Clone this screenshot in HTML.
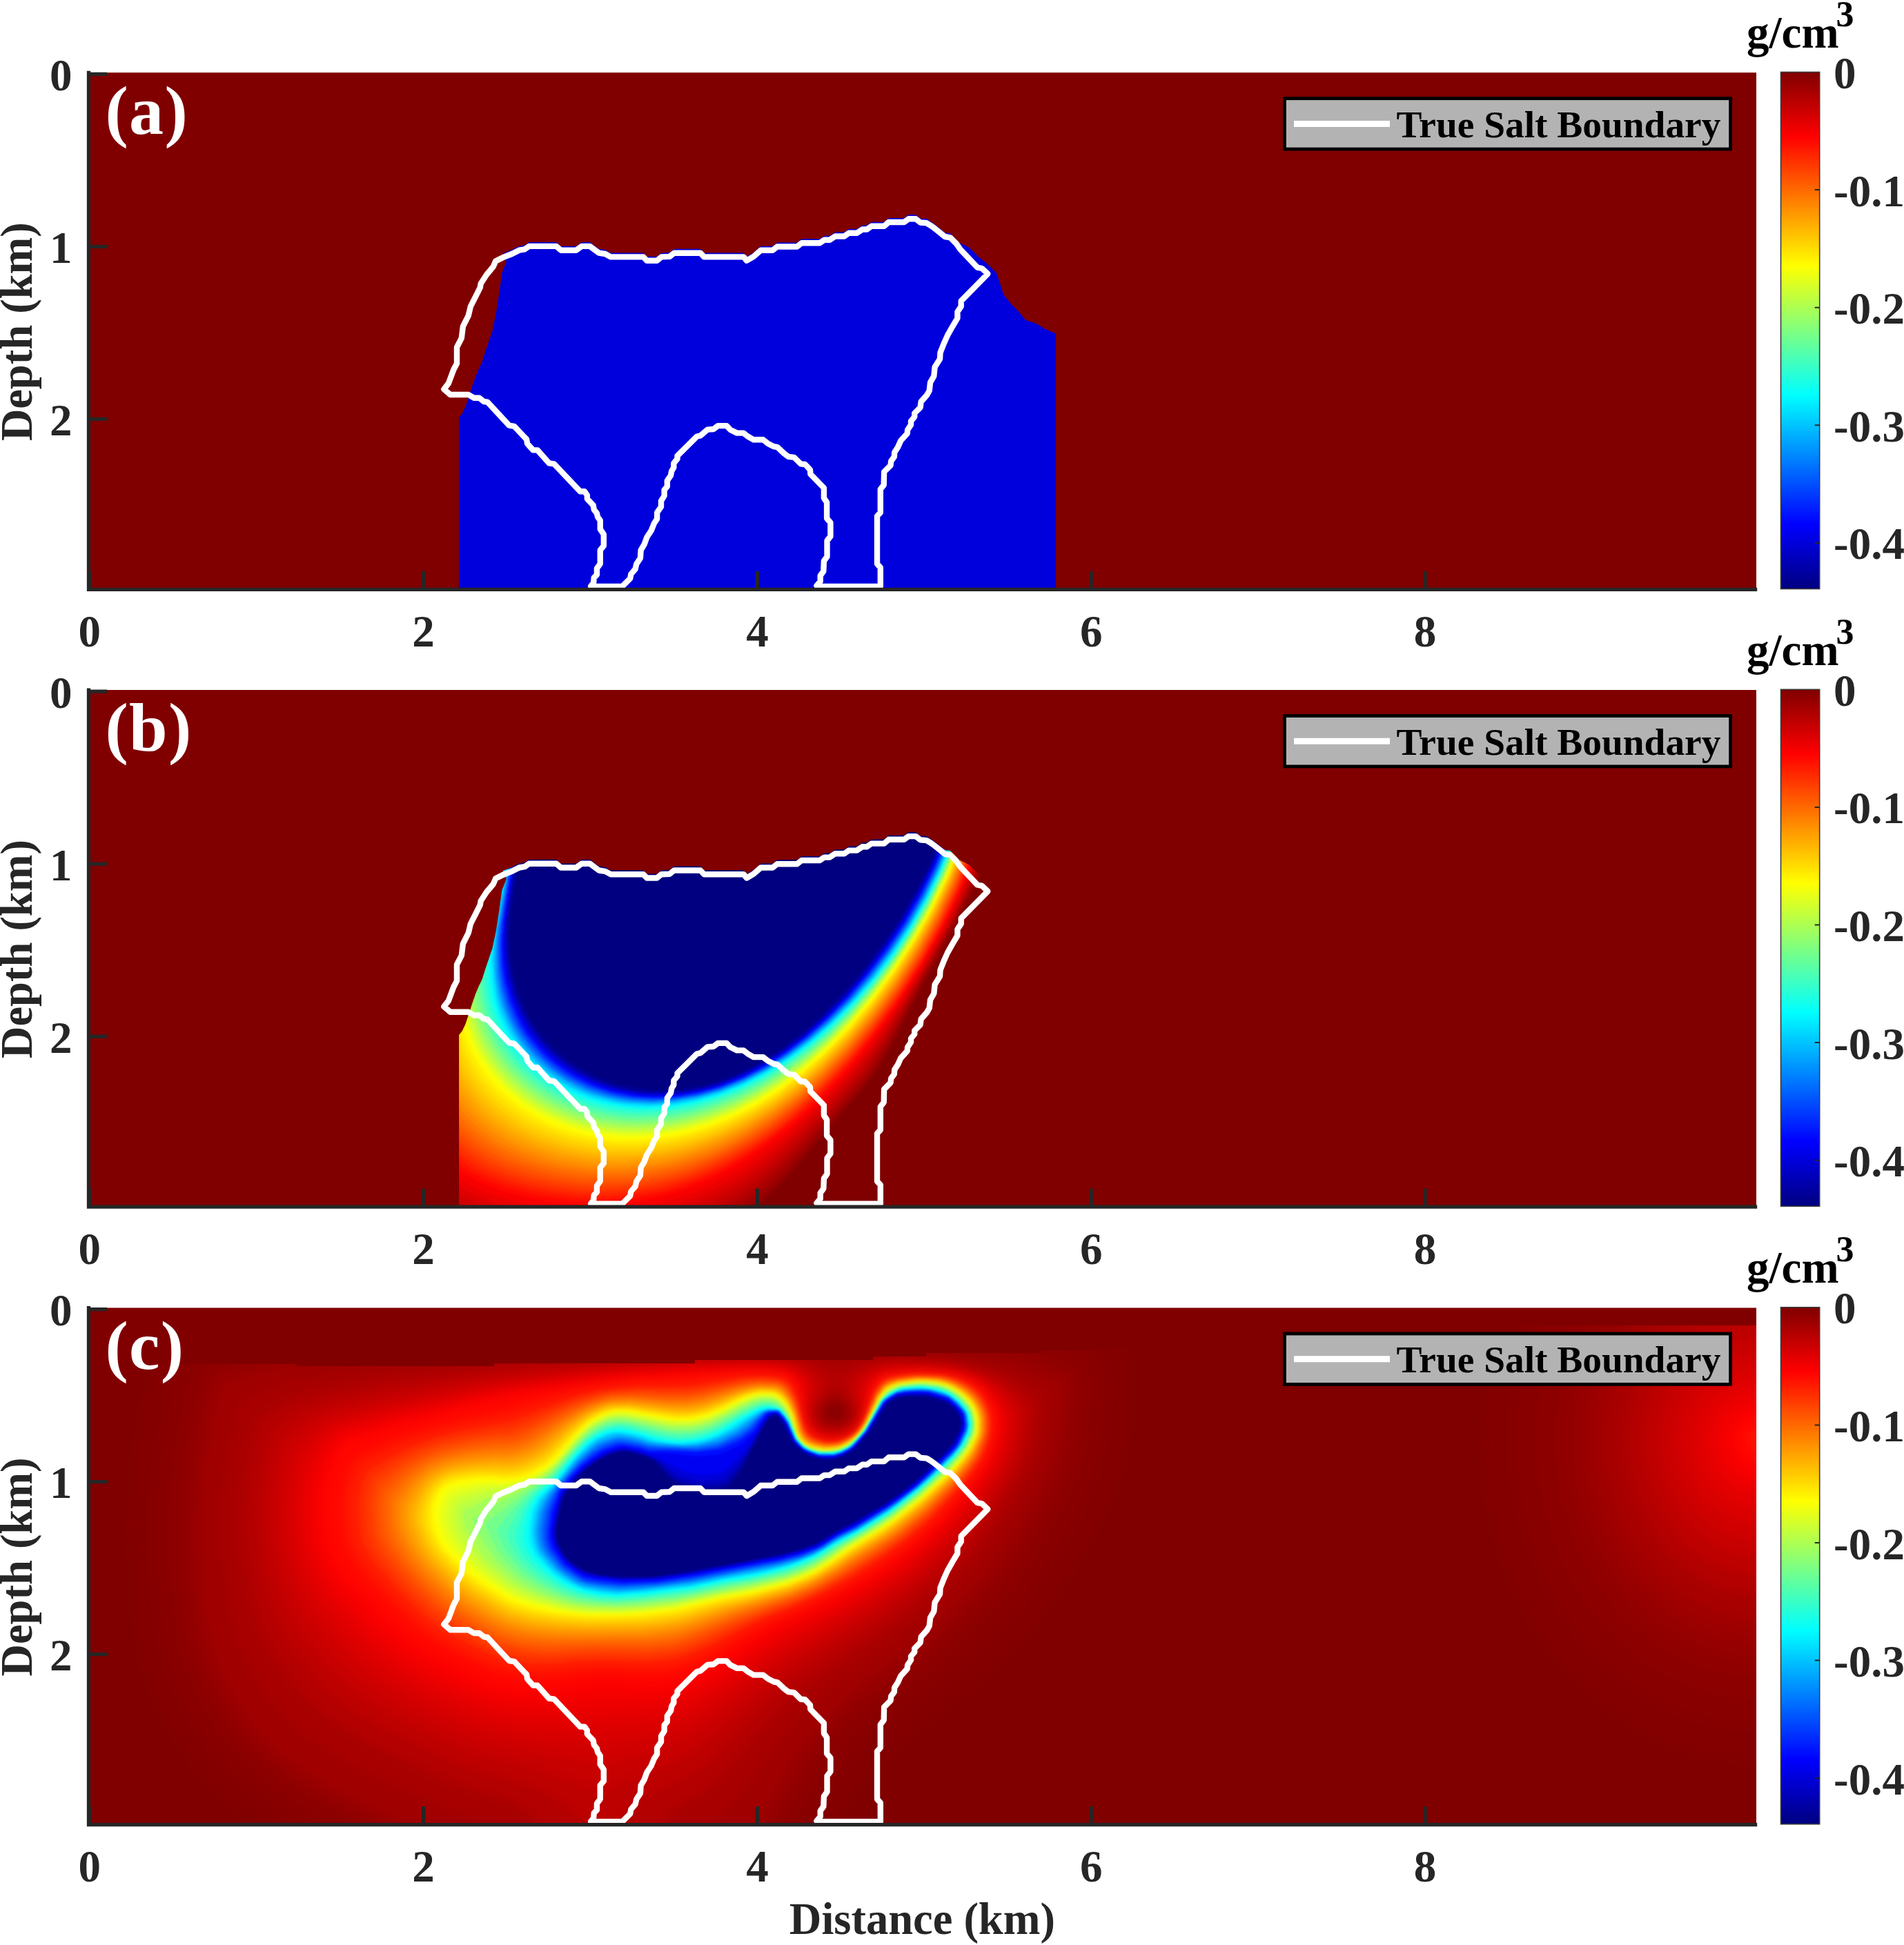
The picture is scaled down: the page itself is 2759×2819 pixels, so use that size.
<!DOCTYPE html>
<html lang="en"><head><meta charset="utf-8"><title>Salt density models</title>
<style>html,body{margin:0;padding:0;background:#fff}svg{display:block}text{font-family:"Liberation Serif",serif;font-weight:bold}</style></head><body>
<svg width="2759" height="2819" viewBox="0 0 2759 2819">
<defs>
<linearGradient id="jetbar" x1="0" y1="0" x2="0" y2="1">
<stop offset="0.0000" stop-color="#800000"/>
<stop offset="0.1250" stop-color="#ff0000"/>
<stop offset="0.3750" stop-color="#ffff00"/>
<stop offset="0.6250" stop-color="#00ffff"/>
<stop offset="0.8750" stop-color="#0000ff"/>
<stop offset="1.0000" stop-color="#000080"/>
</linearGradient>
<clipPath id="plotclip"><rect x="128.5" y="105.2" width="2416.5" height="749.2"/></clipPath>
<clipPath id="plotclipB"><rect x="128.5" y="1000.0" width="2416.5" height="749.2"/></clipPath>
<clipPath id="plotclipC"><rect x="128.5" y="1895.5" width="2416.5" height="749.2"/></clipPath>
<path id="salt" d="M643.3,564.1 649.9,555.7 657.2,536.0 662.0,526.8 662.0,503.2 668.8,490.1 670.9,473.0 678.8,457.3 681.9,444.1 689.3,429.7 695.8,416.6 696.6,411.3 705.0,398.2 714.8,386.4 718.2,378.5 728.7,373.2 741.8,368.0 752.3,362.7 760.2,361.4 766.7,356.9 806.1,356.9 812.7,362.7 835.0,362.7 842.9,356.9 854.7,356.9 867.9,366.7 877.0,368.0 884.9,372.4 932.2,372.4 937.4,377.7 951.9,377.7 958.4,372.4 970.3,371.9 976.8,366.7 1014.9,366.7 1020.2,372.4 1077.6,372.4 1082.0,377.7 1092.0,371.9 1102.5,362.7 1119.6,362.7 1126.2,357.5 1155.0,357.5 1161.6,352.2 1187.9,352.2 1194.4,347.8 1202.3,347.8 1210.2,342.5 1223.3,342.5 1229.9,337.8 1241.7,337.8 1249.6,332.5 1256.1,332.5 1262.7,327.8 1281.1,327.8 1287.7,322.0 1310.0,322.0 1316.5,317.3 1327.0,317.3 1333.6,322.5 1342.8,323.3 1349.4,327.3 1354.6,331.2 1361.2,336.5 1369.1,343.0 1376.9,344.3 1386.1,353.5 1391.4,361.4 1416.3,387.7 1422.9,389.0 1431.3,396.9 1392.7,436.2 1392.7,444.1 1387.4,452.0 1387.4,461.2 1379.6,474.3 1373.0,486.1 1367.7,498.0 1362.5,511.1 1362.0,520.3 1354.6,532.1 1353.3,545.2 1348.0,554.4 1346.7,566.2 1343.1,572.6 1334.7,582.1 1333.6,590.5 1325.2,598.9 1325.2,604.1 1320.0,610.4 1320.0,615.7 1315.1,623.0 1314.7,628.3 1305.2,638.8 1301.0,648.2 1296.2,655.6 1295.8,661.9 1291.2,668.2 1290.5,674.5 1281.1,683.9 1280.7,702.9 1275.8,709.2 1275.8,742.8 1271.0,748.0 1271.0,817.3 1275.8,822.6 1275.8,849.9 1184.5,849.9 1183.4,848.9 1188.7,842.6 1188.7,834.2 1193.3,827.9 1193.9,813.1 1198.5,806.8 1198.5,783.7 1203.4,777.4 1203.4,757.5 1198.1,751.2 1198.1,728.1 1193.9,721.8 1193.9,707.1 1174.4,687.1 1173.9,680.8 1166.6,673.0 1160.3,672.4 1150.8,662.9 1142.4,661.9 1136.1,657.1 1126.7,648.2 1121.4,647.2 1113.0,643.0 1105.7,637.3 1092.0,637.3 1083.6,632.5 1077.3,627.6 1067.9,627.6 1058.4,623.0 1052.9,617.1 1040.3,617.1 1034.0,622.0 1025.2,622.6 1015.1,631.4 1009.9,632.5 981.5,660.8 981.5,665.0 976.3,671.3 976.3,677.6 973.1,682.9 972.0,689.2 966.8,696.6 966.8,705.0 962.6,710.2 962.6,718.6 958.0,726.0 958.0,734.4 952.1,742.8 952.1,752.2 947.9,758.5 943.7,769.0 937.4,778.5 933.6,789.0 928.6,797.4 927.9,808.9 922.3,817.3 920.6,824.7 914.3,832.1 913.2,838.4 904.8,846.8 901.7,849.9 860.7,849.9 856.0,849.9 860.1,844.7 860.7,837.3 864.9,833.1 864.9,823.7 869.7,817.3 869.7,797.4 874.8,791.1 874.8,774.3 869.7,766.9 869.7,754.3 866.0,749.1 864.9,743.8 860.7,738.6 859.7,732.3 850.8,722.8 850.8,717.6 847.1,712.3 840.8,712.3 802.9,672.4 795.6,671.3 778.8,652.4 772.5,652.4 764.1,643.0 763.0,636.7 745.2,617.8 737.8,616.7 706.3,582.7 701.1,582.0 694.5,576.7 686.7,576.7 678.8,572.0 652.5,572.0Z" fill="none" stroke="#fff" stroke-width="8.4" stroke-linejoin="round" stroke-linecap="round"/>
</defs>
<rect width="2759" height="2819" fill="#fff"/>
<rect x="128.5" y="105.2" width="2416.5" height="749.2" fill="#800000"/>
<g clip-path="url(#plotclip)"><path d="M733.9,378.5 727.4,395.5 723.4,424.4 718.7,454.6 713.4,480.0 708.2,495.3 703.2,510.0 698.5,525.0 693.7,534.7 689.3,545.2 684.0,560.5 678.8,576.7 674.3,589.9 669.6,599.8 665.1,605.1 665.1,856.0 1530.0,856.0 1530.0,483.5 1514.8,477.0 1501.7,469.0 1485.9,463.8 1475.4,450.7 1464.9,440.2 1454.4,427.0 1449.2,411.3 1443.9,395.5 1430.8,382.4 1417.7,371.9 1404.5,358.8 1391.0,352.0 1391.4,355.4 1386.1,347.5 1376.9,338.3 1369.1,337.0 1361.2,330.5 1354.6,325.2 1349.4,321.3 1342.8,317.3 1333.6,316.5 1327.0,311.3 1316.5,311.3 1310.0,316.0 1287.7,316.0 1281.1,321.8 1262.7,321.8 1256.1,326.5 1249.6,326.5 1241.7,331.8 1229.9,331.8 1223.3,336.5 1210.2,336.5 1202.3,341.8 1194.4,341.8 1187.9,346.2 1161.6,346.2 1155.0,351.5 1126.2,351.5 1119.6,356.7 1102.5,356.7 1092.0,365.9 1082.0,371.7 1077.6,366.4 1020.2,366.4 1014.9,360.7 976.8,360.7 970.3,365.9 958.4,366.4 951.9,371.7 937.4,371.7 932.2,366.4 884.9,366.4 877.0,362.0 867.9,360.7 854.7,350.9 842.9,350.9 835.0,356.7 812.7,356.7 806.1,350.9 766.7,350.9 760.2,355.4 752.3,356.7 741.8,362.0 728.7,367.2Z" fill="#0000dc"/></g>
<g clip-path="url(#plotclip)" transform="translate(0,0.0)"><use href="#salt"/></g>
<path d="M128.5,102.8 V854.4 H2546.2" fill="none" stroke="#262626" stroke-width="5.3" stroke-linecap="butt" stroke-linejoin="miter"/>
<path d="M128.5,107.4H155.0M128.5,357.4H155.0M128.5,607.4H155.0M129.8,854.4V827.9M613.6,854.4V827.9M1097.4,854.4V827.9M1581.2,854.4V827.9M2065.0,854.4V827.9" stroke="#262626" stroke-width="5.3" fill="none"/>
<text x="104.5" y="130.7" font-size="65" fill="#262626" text-anchor="end">0</text>
<text x="104.5" y="380.7" font-size="65" fill="#262626" text-anchor="end">1</text>
<text x="104.5" y="630.7" font-size="65" fill="#262626" text-anchor="end">2</text>
<text x="129.8" y="936.8" font-size="65" fill="#262626" text-anchor="middle">0</text>
<text x="613.6" y="936.8" font-size="65" fill="#262626" text-anchor="middle">2</text>
<text x="1097.4" y="936.8" font-size="65" fill="#262626" text-anchor="middle">4</text>
<text x="1581.2" y="936.8" font-size="65" fill="#262626" text-anchor="middle">6</text>
<text x="2065.0" y="936.8" font-size="65" fill="#262626" text-anchor="middle">8</text>
<text transform="translate(46.3,480.8) rotate(-90)" font-size="64.5" fill="#262626" text-anchor="middle">Depth (km)</text>
<text x="152.5" y="193.5" font-size="100" letter-spacing="1.3" fill="#fff">(a)</text>
<rect x="1861.4" y="142.7" width="646.2" height="73.4" fill="#b3b3b3" stroke="#000" stroke-width="4.8"/>
<path d="M1875,179.5H2014" stroke="#fff" stroke-width="9"/>
<text x="2023.5" y="198.8" font-size="55.4" fill="#000">True Salt Boundary</text>
<rect x="2580.5" y="104.5" width="56.2" height="749" fill="url(#jetbar)" stroke="#3a3a3a" stroke-width="1.6"/>
<path d="M2636.7,275.1h-7M2636.7,445.7h-7M2636.7,616.3h-7M2636.7,786.9h-7" stroke="#262626" stroke-width="2" fill="none"/>
<text x="2657" y="128.0" font-size="65" fill="#262626">0</text>
<text x="2657" y="298.6" font-size="65" fill="#262626">-0.1</text>
<text x="2657" y="469.2" font-size="65" fill="#262626">-0.2</text>
<text x="2657" y="639.8" font-size="65" fill="#262626">-0.3</text>
<text x="2657" y="810.4" font-size="65" fill="#262626">-0.4</text>
<text x="2531" y="68.8" font-size="65" fill="#000">g/cm<tspan font-size="52" dy="-31" dx="-4">3</tspan></text>
<rect x="128.5" y="1000.0" width="2416.5" height="749.2" fill="#800000"/>
<clipPath id="clipB"><path d="M733.9,1273.3 727.4,1290.3 723.4,1319.2 718.7,1349.4 713.4,1374.8 708.2,1390.1 703.2,1404.8 698.5,1419.8 693.7,1429.5 689.3,1440.0 684.0,1455.3 678.8,1471.5 674.3,1484.7 669.6,1494.6 665.1,1499.9 665.1,1750.8 1278.8,1750.8 1278.8,1744.7 1278.8,1717.4 1274.0,1712.1 1274.0,1642.8 1278.8,1637.6 1278.8,1604.0 1283.7,1597.7 1284.1,1578.7 1293.5,1569.3 1294.2,1563.0 1298.8,1556.7 1299.2,1550.4 1304.0,1543.0 1308.2,1533.6 1317.7,1523.1 1318.1,1517.8 1323.0,1510.5 1323.0,1505.2 1328.2,1498.9 1328.2,1493.7 1336.6,1485.3 1337.7,1476.9 1346.1,1467.4 1349.7,1461.0 1351.0,1449.2 1356.3,1440.0 1357.6,1426.9 1365.0,1415.1 1365.5,1405.9 1370.7,1392.8 1376.0,1380.9 1382.6,1369.1 1390.4,1356.0 1390.4,1346.8 1395.7,1338.9 1395.7,1331.0 1437.0,1292.0 1443.9,1290.3 1430.8,1277.2 1417.7,1266.7 1404.5,1253.6 1391.0,1246.8 1391.4,1250.2 1386.1,1242.3 1376.9,1233.1 1369.1,1231.8 1361.2,1225.3 1354.6,1220.0 1349.4,1216.1 1342.8,1212.1 1333.6,1211.3 1327.0,1206.1 1316.5,1206.1 1310.0,1210.8 1287.7,1210.8 1281.1,1216.6 1262.7,1216.6 1256.1,1221.3 1249.6,1221.3 1241.7,1226.6 1229.9,1226.6 1223.3,1231.3 1210.2,1231.3 1202.3,1236.6 1194.4,1236.6 1187.9,1241.0 1161.6,1241.0 1155.0,1246.3 1126.2,1246.3 1119.6,1251.5 1102.5,1251.5 1092.0,1260.7 1082.0,1266.5 1077.6,1261.2 1020.2,1261.2 1014.9,1255.5 976.8,1255.5 970.3,1260.7 958.4,1261.2 951.9,1266.5 937.4,1266.5 932.2,1261.2 884.9,1261.2 877.0,1256.8 867.9,1255.5 854.7,1245.7 842.9,1245.7 835.0,1251.5 812.7,1251.5 806.1,1245.7 766.7,1245.7 760.2,1250.2 752.3,1251.5 741.8,1256.8 728.7,1262.0Z"/></clipPath>
<filter id="blurB" x="620" y="1160" width="890" height="630" filterUnits="userSpaceOnUse" color-interpolation-filters="sRGB"><feGaussianBlur stdDeviation="1.5"/></filter>
<g clip-path="url(#plotclipB)"><g clip-path="url(#clipB)"><g filter="url(#blurB)">
<path fill="#930000" fill-rule="evenodd" d="M640 1180l2 0 814 0 -3 12 -18 44 -16 36 -16 32 -26 50 -51 94 -35 68 -20 34 -13 18 -11 14 -39 44 -43 52 -21 24 -30 30 -18 16 -22 18 -3 4 -431 0z"/>
<path fill="#9f0000" fill-rule="evenodd" d="M640 1180l2 0 811 0 -2 6 -4 12 -16 40 -16 36 -18 36 -24 46 -49 90 -33 62 -12 22 -13 20 -11 16 -13 15 -37 41 -45 53 -22 25 -18 18 -16 14 -20 17 -24 17 -3 4 -417 0z"/>
<path fill="#ac0000" fill-rule="evenodd" d="M640 1180l2 0 808 0 -2 6 -6 16 -17 44 -18 38 -18 38 -28 52 -70 128 -15 25 -14 22 -12 16 -14 17 -34 38 -44 50 -26 27 -20 19 -20 17 -22 16 -25 17 -4 4 -394 0 -3-3 -4-2z"/>
<path fill="#b90000" fill-rule="evenodd" d="M640 1180l2 0 804 0 -1 6 -6 18 -18 44 -18 40 -20 42 -30 56 -59 105 -18 30 -18 27 -14 18 -16 19 -72 79 -32 32 -22 20 -22 17 -24 16 -29 17 -4 4 -355 0 -1-2 -6-4 -17-10 -4-1z"/>
<path fill="#c60000" fill-rule="evenodd" d="M640 1180l2 0 801 0 -2 8 -7 22 -18 44 -17 40 -22 44 -34 62 -49 85 -22 36 -20 29 -23 28 -61 66 -28 29 -24 22 -24 20 -26 19 -28 16 -31 16 -5 4 -309 0 -5-4 -24-12 -20-12 -4-1z"/>
<path fill="#d20000" fill-rule="evenodd" d="M640 1180l2 0 798 0 -2 8 -8 24 -18 46 -19 44 -22 44 -32 58 -43 73 -26 41 -24 33 -26 31 -58 61 -30 29 -28 25 -28 21 -28 17 -26 14 -40 17 -6 4 -253 0 -6-4 -23-9 -18-8 -14-8 -18-11 -4-1z"/>
<path fill="#df0000" fill-rule="evenodd" d="M640 1180l2 0 795 0 -2 8 -10 30 -18 48 -20 44 -24 48 -33 59 -38 62 -30 45 -27 34 -35 39 -50 51 -32 29 -32 25 -32 21 -34 17 -30 13 -41 13 -9 4 -176 0 -9-4 -39-12 -24-9 -22-11 -26-16 -4-1z"/>
<path fill="#ec0000" fill-rule="evenodd" d="M640 1180l2 0 792 0 -3 12 -12 36 -12 32 -12 28 -12 28 -15 30 -34 61 -40 64 -36 52 -16 21 -16 19 -42 44 -42 41 -38 32 -18 13 -20 13 -18 11 -20 10 -20 9 -20 8 -20 7 -22 5 -22 5 -26 4 -24 2 -18 1 -26-2 -36-4 -30-5 -30-8 -26-9 -22-9 -18-9 -24-16 -4-2z"/>
<path fill="#f90000" fill-rule="evenodd" d="M640 1180l2 0 789 0 -2 12 -12 36 -10 28 -13 30 -11 26 -15 30 -32 58 -38 61 -20 29 -17 24 -34 42 -41 44 -42 39 -22 18 -18 14 -20 15 -18 11 -18 10 -20 11 -20 9 -20 7 -20 7 -22 5 -22 5 -22 3 -22 1 -22 1 -32-1 -32-4 -32-6 -30-8 -26-8 -22-10 -18-10 -22-16 -4-2z"/>
<path fill="#ff0600" fill-rule="evenodd" d="M640 1180l2 0 787 0 -4 16 -10 32 -10 28 -12 30 -26 54 -31 57 -35 57 -36 50 -35 44 -20 22 -22 23 -22 21 -20 18 -18 14 -22 17 -36 24 -20 12 -20 10 -18 8 -22 8 -18 6 -24 6 -20 4 -24 3 -24 2 -20 1 -34-2 -32-3 -34-7 -30-8 -24-9 -22-10 -18-10 -22-17 -4-2z"/>
<path fill="#ff1300" fill-rule="evenodd" d="M640 1180l2 0 785 0 -2 12 -12 36 -10 28 -12 30 -25 54 -30 54 -35 56 -36 50 -37 46 -20 22 -20 20 -20 20 -20 17 -22 18 -18 14 -20 14 -20 12 -20 12 -20 10 -20 8 -20 8 -20 6 -20 5 -20 3 -24 4 -22 1 -20 1 -32-2 -34-4 -34-6 -32-9 -24-9 -22-11 -18-11 -22-18 -4-2z"/>
<path fill="#ff2000" fill-rule="evenodd" d="M640 1180l2 0 784 0 -3 12 -10 32 -10 28 -12 30 -12 28 -13 26 -14 27 -16 28 -33 53 -36 50 -20 26 -19 22 -20 22 -20 21 -38 35 -20 16 -20 15 -22 16 -20 12 -18 10 -20 10 -20 9 -20 7 -20 7 -20 5 -20 3 -22 3 -20 2 -22 1 -34-2 -34-4 -34-7 -32-9 -26-10 -22-11 -18-13 -22-18 -4-2z"/>
<path fill="#ff2d00" fill-rule="evenodd" d="M640 1180l2 0 782 0 -3 14 -10 32 -10 28 -12 30 -25 53 -29 53 -17 28 -17 26 -36 50 -38 46 -39 41 -38 35 -20 17 -20 15 -38 25 -20 11 -20 10 -20 9 -20 7 -20 7 -20 5 -20 3 -22 3 -20 2 -22 1 -34-2 -34-4 -34-7 -34-10 -24-10 -22-12 -18-12 -24-22 -4-2z"/>
<path fill="#ff3900" fill-rule="evenodd" d="M640 1180l2 0 781 0 -4 16 -10 30 -10 28 -10 26 -12 26 -13 28 -28 52 -33 52 -36 50 -37 45 -20 22 -20 21 -38 35 -20 17 -20 15 -20 14 -20 12 -18 10 -20 10 -18 8 -20 8 -20 6 -20 5 -20 4 -22 3 -20 2 -22 1 -36-2 -34-4 -36-8 -34-11 -26-11 -20-12 -19-14 -23-22 -4-2z"/>
<path fill="#ff4600" fill-rule="evenodd" d="M640 1180l2 0 780 0 -3 12 -12 36 -10 28 -10 26 -25 52 -28 52 -32 50 -36 50 -38 47 -38 40 -38 35 -20 16 -20 15 -20 14 -20 12 -18 10 -20 10 -18 8 -20 8 -20 6 -20 5 -20 4 -20 3 -20 1 -22 1 -36-2 -36-5 -36-8 -34-11 -24-11 -23-14 -17-14 -24-24 -4-2z"/>
<path fill="#ff5300" fill-rule="evenodd" d="M640 1180l2 0 778 0 -3 14 -10 32 -11 28 -11 28 -24 52 -28 50 -31 50 -36 49 -38 46 -38 41 -38 34 -38 30 -20 14 -20 12 -18 10 -20 10 -18 8 -20 8 -20 6 -20 5 -20 4 -20 3 -20 1 -22 1 -37-2 -37-5 -36-9 -34-12 -25-12 -21-14 -19-16 -23-24 -4-3z"/>
<path fill="#ff6000" fill-rule="evenodd" d="M640 1180l2 0 777 0 -3 14 -11 32 -10 28 -11 26 -24 52 -28 51 -32 50 -36 50 -36 43 -38 41 -36 32 -38 30 -20 14 -20 12 -18 10 -20 10 -18 8 -20 8 -20 6 -20 5 -20 4 -20 3 -20 1 -20 1 -38-2 -36-5 -38-10 -34-12 -26-13 -22-15 -20-18 -22-25 -4-3z"/>
<path fill="#ff6c00" fill-rule="evenodd" d="M640 1180l2 0 776 0 -4 14 -10 32 -10 27 -11 27 -25 52 -27 50 -32 50 -35 48 -36 43 -38 40 -36 33 -38 30 -20 13 -20 13 -20 11 -18 9 -18 7 -20 8 -18 5 -20 5 -20 4 -20 3 -20 2 -20 0 -38-2 -38-6 -20-5 -18-5 -18-6 -16-7 -26-14 -12-8 -12-9 -18-17 -10-12 -12-15 -4-4z"/>
<path fill="#ff7900" fill-rule="evenodd" d="M640 1180l2 0 775 0 -3 12 -11 32 -10 28 -11 26 -23 50 -28 50 -31 49 -34 47 -36 44 -38 40 -36 33 -38 30 -38 25 -20 11 -18 9 -18 8 -20 7 -18 6 -20 5 -20 4 -20 3 -20 2 -20 0 -20 0 -20-2 -20-3 -18-3 -20-5 -18-5 -18-7 -16-7 -14-7 -13-8 -12-8 -12-10 -19-19 -10-13 -12-16 -4-4z"/>
<path fill="#ff8600" fill-rule="evenodd" d="M640 1180l2 0 773 0 -3 14 -11 32 -20 52 -24 50 -27 49 -32 50 -34 47 -36 43 -36 38 -36 33 -38 29 -38 25 -20 11 -18 9 -18 8 -20 7 -18 6 -20 5 -18 3 -20 3 -20 2 -20 0 -20 0 -20-2 -20-3 -18-3 -20-5 -20-7 -18-7 -16-7 -14-7 -13-9 -13-10 -12-10 -18-20 -10-13 -12-18 -4-3z"/>
<path fill="#ff9300" fill-rule="evenodd" d="M640 1180l2 0 772 0 -3 12 -10 32 -10 26 -12 28 -23 49 -27 49 -31 49 -34 46 -36 43 -36 38 -36 33 -36 27 -38 25 -18 10 -20 10 -18 8 -20 7 -18 6 -20 5 -18 4 -20 2 -20 2 -20 1 -22-1 -20-2 -20-3 -20-4 -20-6 -20-7 -18-7 -16-8 -13-8 -13-9 -12-9 -12-12 -10-10 -10-13 -9-13 -11-18 -4-4 0-305 2-11 2-22 -1-18 -3-14z"/>
<path fill="#ff9f00" fill-rule="evenodd" d="M650 1212l-2-32 765 0 -3 12 -11 32 -20 52 -24 50 -26 48 -31 48 -32 44 -36 43 -36 38 -36 33 -36 28 -38 24 -18 10 -20 10 -36 15 -18 6 -20 5 -18 3 -20 3 -20 2 -20 1 -22-1 -20-2 -20-3 -20-4 -20-6 -20-7 -20-8 -16-8 -14-9 -14-10 -13-11 -12-12 -10-12 -9-12 -10-16 -10-18 -4-5 0-254 2-4 4-15 3-30z"/>
<path fill="#ffac00" fill-rule="evenodd" d="M656 1216l-2-36 758 0 -3 10 -10 32 -10 26 -12 28 -22 48 -27 48 -30 47 -34 46 -34 41 -36 38 -36 33 -36 27 -36 24 -18 10 -20 9 -18 8 -20 8 -18 5 -20 5 -18 4 -20 3 -18 1 -20 1 -22-1 -22-2 -22-4 -20-4 -20-6 -20-8 -18-8 -18-10 -14-9 -14-11 -12-11 -12-14 -11-14 -9-13 -8-15 -10-20 -4-6 0-211 2-3 2-6 4-16 4-22 3-20z"/>
<path fill="#ffb900" fill-rule="evenodd" d="M662 1218l-2-38 750 0 -2 12 -10 30 -21 52 -24 50 -26 46 -30 48 -33 44 -34 41 -36 38 -34 31 -36 28 -36 23 -18 10 -20 10 -36 14 -18 6 -20 5 -18 4 -20 3 -18 1 -20 1 -20-1 -20-1 -20-3 -20-5 -19-5 -19-7 -18-7 -16-8 -14-9 -14-9 -14-12 -12-12 -10-12 -11-14 -9-14 -8-16 -12-28 -4-7 0-167 2-3 2-6 6-25 6-30 4-24 2-18z"/>
<path fill="#ffc600" fill-rule="evenodd" d="M668 1218l-2-38 743 0 -2 10 -10 30 -10 26 -11 28 -23 48 -26 46 -30 46 -33 46 -34 40 -36 38 -34 31 -36 27 -36 23 -36 19 -36 15 -18 5 -20 6 -18 3 -20 3 -20 2 -18 0 -20 0 -20-2 -20-3 -18-4 -20-6 -18-6 -18-8 -16-8 -14-9 -14-10 -12-10 -13-12 -11-13 -10-13 -9-14 -8-16 -9-20 -10-32 -2-4 0-113 4-12 14-63 8-40 2-18z"/>
<path fill="#ffd200" fill-rule="evenodd" d="M674 1218l-2-38 736 0 -3 12 -10 30 -20 50 -24 50 -26 46 -29 46 -33 44 -33 40 -36 37 -34 30 -36 28 -36 23 -36 18 -36 15 -20 6 -18 4 -36 6 -20 2 -18 0 -20 0 -20-2 -20-3 -18-4 -18-6 -18-6 -18-8 -16-8 -14-9 -14-10 -13-11 -12-12 -11-13 -10-13 -9-14 -8-16 -10-24 -6-24 -6-32 -2-16 0-12 2-26 6-36 5-26 13-58 5-28 2-16z"/>
<path fill="#ffdf00" fill-rule="evenodd" d="M678 1180l2 0 727 0 -2 10 -12 34 -20 50 -22 46 -26 46 -30 46 -32 44 -33 39 -34 35 -34 31 -34 26 -36 23 -36 19 -36 14 -18 6 -20 5 -36 6 -20 2 -18 1 -20-1 -18-2 -20-3 -18-4 -18-5 -18-6 -18-8 -16-8 -14-9 -14-10 -14-11 -12-12 -10-12 -11-14 -9-15 -8-15 -10-25 -7-27 -4-28 -1-30 2-26 4-30 5-26 14-60 5-28 2-16 0-16z"/>
<path fill="#ffec00" fill-rule="evenodd" d="M684 1180l2 0 720 0 -3 12 -10 30 -20 50 -22 46 -26 46 -30 46 -30 40 -35 42 -34 35 -36 32 -34 26 -34 22 -36 18 -36 14 -36 10 -36 7 -20 1 -18 1 -20-1 -18-1 -20-4 -18-4 -18-5 -18-7 -16-7 -16-8 -14-9 -14-10 -14-12 -12-12 -11-12 -10-14 -9-14 -7-14 -10-26 -7-26 -4-28 0-30 1-26 5-28 5-26 14-58 5-28 2-16 0-16z"/>
<path fill="#fff900" fill-rule="evenodd" d="M692 1216l-2-36 715 0 -2 10 -10 30 -20 50 -22 46 -26 46 -30 46 -30 40 -33 40 -36 37 -34 30 -34 26 -36 23 -34 17 -36 14 -36 10 -36 6 -36 2 -20 0 -18-2 -18-3 -18-4 -18-5 -18-6 -16-7 -16-9 -16-10 -14-10 -13-11 -12-12 -12-14 -10-14 -9-14 -7-14 -9-24 -7-26 -4-28 0-28 2-26 4-28 6-28 13-51 6-31 2-16z"/>
<path fill="#f9ff06" fill-rule="evenodd" d="M694 1180l2 0 708 0 -3 12 -10 30 -20 50 -22 46 -24 42 -30 46 -30 40 -32 38 -35 37 -34 30 -34 26 -34 22 -36 18 -36 14 -36 10 -36 6 -18 2 -18 1 -20-1 -18-2 -16-2 -20-5 -18-5 -16-6 -18-8 -16-8 -14-9 -14-11 -14-12 -12-12 -12-13 -8-12 -9-14 -8-16 -10-24 -6-26 -4-28 0-28 2-26 4-26 6-26 15-58 4-22 2-17 1-15 -1-18z"/>
<path fill="#ecff13" fill-rule="evenodd" d="M697 1180l1 0 706 0 -3 10 -10 30 -20 50 -22 46 -24 42 -30 46 -30 40 -32 38 -35 37 -32 28 -34 26 -34 22 -36 19 -18 7 -20 8 -36 10 -20 3 -18 3 -34 2 -20-1 -16-2 -20-3 -18-4 -18-5 -16-7 -14-6 -16-8 -16-10 -14-11 -12-10 -12-12 -11-12 -10-14 -8-12 -8-16 -10-24 -6-24 -4-28 -1-30 3-28 4-26 6-26 13-52 6-30 1-16 0-14z"/>
<path fill="#dfff20" fill-rule="evenodd" d="M699 1180l1 0 703 0 -2 8 -10 30 -20 50 -22 46 -26 46 -28 42 -33 44 -30 36 -34 35 -32 28 -34 26 -34 22 -36 18 -34 14 -36 10 -18 4 -18 3 -18 1 -20 1 -20-1 -18-1 -18-3 -16-4 -20-6 -16-6 -14-6 -16-9 -14-8 -14-10 -14-12 -12-12 -10-12 -11-14 -9-14 -7-14 -9-24 -7-26 -3-26 -1-28 2-26 4-26 6-28 13-50 6-32 1-16 1-14z"/>
<path fill="#d2ff2d" fill-rule="evenodd" d="M701 1180l1 0 700 0 -2 8 -9 28 -20 50 -22 46 -26 46 -30 46 -30 40 -33 38 -32 33 -32 28 -34 26 -34 22 -36 18 -36 14 -36 11 -18 3 -18 3 -18 1 -18 1 -18-1 -18-2 -18-3 -18-4 -18-5 -16-6 -16-7 -14-8 -14-8 -14-10 -14-12 -12-12 -10-12 -11-14 -9-14 -7-14 -9-24 -6-24 -4-26 0-28 1-26 4-26 6-26 14-54 5-30 1-14 1-16z"/>
<path fill="#c6ff39" fill-rule="evenodd" d="M703 1180l1 0 697 0 -2 10 -10 30 -20 50 -22 44 -26 46 -28 42 -30 40 -31 37 -34 34 -34 30 -32 24 -34 22 -36 18 -34 14 -36 10 -36 6 -18 2 -18 0 -18 0 -18-2 -18-3 -18-4 -18-5 -16-6 -16-7 -14-8 -14-8 -14-10 -14-12 -12-12 -10-12 -10-13 -8-13 -8-14 -9-24 -7-24 -3-26 -1-28 2-26 4-26 5-26 14-54 5-28 1-16 1-16z"/>
<path fill="#b9ff46" fill-rule="evenodd" d="M704 1180l2 0 695 0 -2 8 -10 30 -20 50 -22 46 -24 42 -28 42 -30 40 -33 39 -34 35 -32 28 -34 26 -34 21 -36 18 -36 14 -36 10 -18 4 -18 2 -34 2 -18-1 -18-1 -18-3 -17-4 -17-5 -16-6 -16-7 -15-8 -15-9 -14-11 -12-10 -12-12 -11-12 -9-13 -8-13 -8-14 -9-24 -6-24 -4-26 -1-28 2-24 4-26 5-26 14-54 5-28 1-16 0-16z"/>
<path fill="#acff53" fill-rule="evenodd" d="M706 1180l2 0 692 0 -2 8 -9 28 -20 50 -22 46 -24 42 -26 40 -31 42 -32 37 -34 35 -32 29 -34 26 -34 21 -36 19 -36 14 -36 10 -18 3 -18 3 -34 2 -18-1 -18-1 -18-3 -17-4 -17-5 -16-6 -16-7 -15-8 -15-9 -14-11 -12-10 -12-12 -11-12 -9-13 -8-13 -8-14 -9-24 -6-24 -4-26 0-26 1-24 4-26 5-26 14-54 5-28 1-16 0-16z"/>
<path fill="#9fff60" fill-rule="evenodd" d="M711 1218l-3-38 692 0 -3 10 -10 30 -20 50 -22 44 -24 42 -26 40 -30 40 -33 38 -32 33 -32 28 -34 26 -34 21 -36 19 -36 14 -36 10 -18 3 -18 3 -34 1 -18 0 -18-2 -18-3 -16-3 -18-6 -16-6 -16-7 -14-7 -14-9 -14-10 -12-11 -12-12 -11-12 -9-12 -8-14 -8-14 -8-22 -7-24 -3-26 -1-26 2-24 3-26 6-26 13-54 4-28 2-14z"/>
<path fill="#93ff6c" fill-rule="evenodd" d="M709 1180l1 0 689 0 -2 10 -10 28 -18 46 -22 46 -24 42 -28 42 -29 39 -32 38 -34 34 -32 29 -34 25 -34 21 -34 18 -36 14 -36 10 -18 4 -18 2 -34 2 -18 0 -18-2 -18-3 -16-3 -16-5 -16-6 -16-7 -15-8 -15-9 -12-9 -12-10 -13-12 -10-12 -9-12 -9-14 -8-14 -9-22 -6-24 -4-26 -1-26 2-24 3-26 6-26 13-54 4-28 1-14 1-16z"/>
<path fill="#86ff79" fill-rule="evenodd" d="M711 1180l1 0 686 0 -1 8 -10 30 -20 48 -22 46 -24 42 -28 42 -29 38 -32 38 -32 32 -32 28 -34 25 -34 22 -34 17 -36 14 -36 10 -18 4 -18 2 -34 2 -18-1 -18-1 -18-3 -16-4 -16-5 -16-6 -16-7 -14-7 -14-9 -12-9 -12-10 -13-12 -10-12 -9-12 -9-14 -8-14 -8-22 -7-24 -3-26 -1-26 1-24 4-26 5-24 12-52 5-28 1-16 0-16z"/>
<path fill="#73ff8c" fill-rule="evenodd" d="M712 1180l2 0 684 0 -3 10 -10 30 -18 46 -22 44 -24 42 -26 40 -29 39 -32 37 -32 33 -32 28 -34 25 -34 22 -34 17 -36 14 -36 11 -18 3 -18 3 -34 2 -18-1 -18-2 -18-2 -16-4 -16-5 -16-6 -14-6 -16-8 -14-9 -13-9 -12-10 -12-12 -10-12 -9-12 -9-14 -7-13 -9-21 -6-24 -4-26 -1-26 2-24 3-26 5-24 12-52 5-28 1-16 0-16z"/>
<path fill="#59ffa6" fill-rule="evenodd" d="M719 1218l-3-38 681 0 -2 8 -10 30 -19 46 -21 44 -24 42 -26 40 -29 38 -32 37 -32 33 -32 28 -34 25 -34 21 -34 17 -34 14 -36 10 -18 4 -18 2 -34 2 -18 0 -16-2 -18-3 -16-3 -16-5 -16-6 -16-7 -14-7 -14-9 -13-9 -12-10 -11-11 -10-11 -10-13 -8-13 -8-14 -8-22 -6-22 -4-24 -1-26 1-24 4-26 4-24 12-52 5-28 1-16z"/>
<path fill="#40ffbf" fill-rule="evenodd" d="M719 1180l1 0 676 0 -3 10 -9 26 -19 48 -20 42 -24 42 -26 40 -29 38 -30 35 -32 32 -32 28 -34 25 -34 22 -34 17 -36 14 -34 10 -18 3 -18 3 -34 2 -18-1 -16-1 -18-3 -16-4 -16-4 -15-6 -15-6 -14-8 -14-8 -13-10 -12-10 -11-10 -10-12 -9-12 -8-12 -8-14 -9-22 -6-22 -3-24 -1-24 1-24 3-24 4-24 12-54 4-28 1-16 0-16z"/>
<path fill="#26ffd9" fill-rule="evenodd" d="M726 1218l-4-38 673 0 -2 8 -10 30 -19 46 -20 41 -24 43 -26 39 -28 37 -30 34 -32 33 -32 27 -34 25 -32 20 -36 18 -36 14 -34 10 -34 5 -34 2 -18 0 -16-2 -16-2 -16-4 -16-4 -16-6 -14-6 -14-8 -14-8 -12-9 -12-10 -12-11 -9-10 -9-12 -8-12 -8-14 -9-22 -6-22 -3-24 -2-24 1-24 3-24 5-24 11-52 4-28 1-16z"/>
<path fill="#0dfff2" fill-rule="evenodd" d="M725 1180l1 0 668 0 -3 10 -9 26 -18 46 -20 41 -24 42 -25 39 -28 36 -29 34 -32 32 -30 27 -36 26 -32 20 -34 18 -32 12 -34 10 -34 7 -20 1 -18 1 -32-2 -32-5 -16-5 -16-5 -14-6 -16-8 -14-9 -12-8 -12-10 -10-10 -10-11 -9-11 -8-12 -8-14 -8-20 -7-22 -4-24 -1-26 1-22 3-26 15-78 3-24 1-14 -1-16z"/>
<path fill="#00f2ff" fill-rule="evenodd" d="M732 1222l-4-42 665 0 -3 10 -9 28 -19 46 -20 41 -22 38 -25 39 -28 36 -29 34 -32 32 -34 30 -32 23 -32 20 -32 16 -34 14 -36 10 -34 6 -34 2 -16 0 -18-2 -32-6 -14-4 -18-6 -14-6 -14-8 -24-16 -12-9 -12-12 -9-10 -9-12 -7-10 -8-14 -9-20 -6-24 -4-24 -2-24 1-22 2-22 4-22 11-56 4-28z"/>
<path fill="#00d9ff" fill-rule="evenodd" d="M731 1180l1 0 660 0 -3 10 -9 26 -18 45 -20 41 -24 42 -25 38 -27 36 -30 34 -30 30 -30 26 -32 25 -32 20 -34 18 -36 14 -34 10 -20 4 -16 2 -32 2 -16-1 -18-1 -32-6 -14-4 -16-6 -14-6 -16-8 -12-8 -14-10 -11-9 -10-10 -11-12 -9-12 -8-12 -6-12 -9-20 -6-22 -3-22 -2-26 1-22 2-26 14-73 3-27 1-26 -3-34z"/>
<path fill="#00bfff" fill-rule="evenodd" d="M733 1180l1 0 657 0 -2 8 -10 28 -19 47 -20 41 -22 38 -25 38 -27 36 -30 34 -30 30 -30 27 -32 24 -32 20 -34 18 -34 14 -20 6 -16 4 -34 6 -32 2 -32-2 -16-2 -16-4 -28-8 -14-6 -16-8 -14-8 -12-9 -12-9 -12-11 -9-10 -9-12 -8-12 -8-14 -9-20 -6-22 -4-24 -2-26 1-22 3-26 13-74 3-24 1-24 -3-36z"/>
<path fill="#00a6ff" fill-rule="evenodd" d="M735 1190l1-10 654 0 -3 10 -9 26 -18 44 -20 41 -24 42 -25 37 -27 36 -30 34 -30 31 -30 26 -32 24 -32 20 -34 18 -32 12 -34 10 -34 6 -34 2 -32-2 -16-2 -16-4 -16-4 -14-5 -14-6 -14-8 -12-7 -13-9 -12-10 -11-10 -10-11 -8-11 -8-12 -8-14 -9-22 -7-22 -4-24 -1-26 1-20 2-26 12-65 4-29 1-26z"/>
<path fill="#008cff" fill-rule="evenodd" d="M738 1180l2 0 649 0 -2 8 -10 28 -19 46 -20 40 -22 39 -25 37 -27 36 -29 34 -32 32 -31 27 -32 24 -32 20 -32 16 -34 14 -30 8 -34 6 -16 2 -18 1 -32-2 -16-3 -16-3 -16-5 -14-5 -14-6 -14-7 -14-9 -12-8 -12-10 -10-10 -10-11 -9-11 -8-12 -7-14 -10-22 -6-22 -4-24 -1-26 0-20 3-24 12-70 4-28 1-26 -2-30z"/>
<path fill="#0073ff" fill-rule="evenodd" d="M741 1180l1 0 646 0 -2 8 -10 28 -18 44 -20 40 -24 42 -24 36 -28 36 -29 34 -31 31 -31 27 -31 24 -30 19 -32 16 -34 14 -34 10 -32 5 -32 2 -32-2 -16-2 -16-4 -15-4 -15-5 -14-6 -14-7 -14-9 -12-9 -12-10 -11-10 -10-12 -9-11 -8-13 -7-12 -9-22 -6-24 -4-24 -1-26 0-22 3-22 12-72 3-20 1-26 -1-32z"/>
<path fill="#0059ff" fill-rule="evenodd" d="M743 1180l1 0 643 0 -3 10 -9 26 -19 45 -20 40 -22 39 -26 38 -27 36 -30 34 -31 31 -30 27 -30 22 -32 21 -32 16 -30 12 -34 10 -34 6 -32 2 -32-2 -16-3 -16-3 -15-5 -15-5 -14-7 -14-7 -12-7 -13-10 -12-10 -10-10 -11-12 -8-11 -8-12 -7-13 -9-22 -7-24 -4-26 -1-26 1-22 3-22 11-66 3-24 1-24 0-32z"/>
<path fill="#0040ff" fill-rule="evenodd" d="M743 1192l3-12 640 0 -2 8 -10 27 -18 43 -20 41 -24 41 -25 38 -28 36 -29 34 -30 30 -30 26 -31 24 -32 20 -31 16 -32 13 -32 9 -32 5 -32 2 -32-2 -16-2 -16-4 -16-5 -14-5 -14-6 -14-7 -14-9 -12-9 -12-10 -10-10 -10-12 -8-10 -8-13 -7-13 -9-22 -7-24 -4-26 -1-26 1-22 2-22 14-88 2-24z"/>
<path fill="#0026ff" fill-rule="evenodd" d="M749 1180l1 0 635 0 -2 8 -9 25 -20 47 -20 40 -22 38 -26 39 -28 36 -30 35 -30 30 -29 26 -29 22 -31 20 -31 16 -32 13 -32 9 -32 6 -32 2 -32-2 -16-3 -16-3 -16-5 -14-5 -14-6 -14-8 -13-8 -13-10 -12-10 -10-10 -9-10 -9-12 -8-12 -7-14 -10-24 -6-24 -4-26 -1-26 0-18 2-20 13-84 3-28 1-32z"/>
<path fill="#000dff" fill-rule="evenodd" d="M751 1180l1 0 632 0 -2 7 -10 28 -18 42 -20 40 -24 42 -24 35 -28 37 -28 33 -31 32 -30 26 -31 24 -31 20 -31 16 -30 12 -32 9 -32 6 -30 2 -16-1 -16-1 -16-3 -16-3 -15-5 -15-5 -14-7 -14-7 -12-8 -13-9 -12-10 -10-10 -10-12 -9-11 -8-13 -6-12 -10-24 -8-26 -4-26 -1-28 1-20 2-21 13-83 2-22 3-32z"/>
<path fill="#0000f2" fill-rule="evenodd" d="M749 1194l5-14 629 0 -3 10 -8 22 -20 47 -20 39 -22 38 -26 39 -28 37 -28 32 -31 32 -29 26 -32 24 -28 18 -31 16 -29 12 -18 6 -16 4 -32 5 -30 2 -16 0 -16-2 -16-3 -16-3 -15-5 -15-6 -14-6 -14-8 -13-8 -13-10 -11-10 -10-10 -9-10 -9-12 -7-12 -8-14 -9-24 -7-25 -4-27 -1-28 1-22 2-22 13-78z"/>
<path fill="#0000d9" fill-rule="evenodd" d="M756 1180l2 0 623 0 -1 7 -10 27 -20 46 -20 39 -24 41 -26 38 -26 34 -28 33 -31 31 -29 26 -32 24 -28 18 -31 16 -30 12 -28 8 -19 4 -14 2 -30 2 -30-2 -16-3 -16-3 -14-4 -16-6 -14-7 -14-7 -13-8 -13-10 -12-10 -10-10 -10-12 -8-11 -8-12 -7-13 -10-24 -7-26 -4-28 -2-30 2-22 2-22 12-72 5-50z"/>
<path fill="#0000bf" fill-rule="evenodd" d="M759 1180l1 0 620 0 -2 9 -10 27 -18 41 -20 39 -22 38 -24 36 -30 40 -28 33 -31 31 -29 26 -28 22 -31 20 -31 16 -29 12 -27 8 -31 6 -17 2 -16 0 -16 0 -18-2 -30-6 -13-4 -16-6 -13-6 -15-8 -12-8 -13-9 -12-11 -10-10 -10-11 -8-11 -8-13 -7-13 -11-26 -7-26 -4-28 -1-30 1-22 3-24 11-68 6-46 2-6z"/>
<path fill="#0000a6" fill-rule="evenodd" d="M757 1194l5-14 617 0 -3 10 -8 22 -20 46 -20 39 -22 37 -24 36 -30 40 -28 32 -31 32 -29 26 -26 20 -31 20 -30 16 -29 12 -19 6 -15 4 -30 5 -28 1 -15 0 -19-2 -29-6 -13-4 -16-6 -13-6 -15-8 -12-8 -13-10 -12-10 -10-10 -17-22 -8-13 -8-15 -10-25 -7-27 -4-28 -1-30 1-24 3-22 11-66 6-42z"/>
<path fill="#00008c" fill-rule="evenodd" d="M765 1180l1 0 611 0 -3 11 -8 21 -20 45 -20 39 -22 38 -26 38 -24 32 -30 35 -32 33 -26 24 -34 26 -28 18 -27 14 -29 12 -18 6 -16 4 -22 4 -20 2 -14 0 -15 0 -19-2 -29-6 -13-4 -16-6 -24-12 -24-16 -12-10 -12-12 -10-11 -10-13 -14-24 -10-24 -8-28 -5-30 -1-32 2-28 6-42 14-83z"/>
<path fill="#000080" fill-rule="evenodd" d="M769 1184l1-4 604 0 -2 8 -10 26 -18 41 -20 39 -24 40 -24 36 -26 34 -28 33 -32 33 -34 30 -26 20 -28 18 -27 14 -30 12 -27 8 -20 4 -16 2 -24 1 -20-1 -17-2 -27-6 -28-10 -12-6 -14-8 -12-8 -13-10 -11-10 -10-10 -10-12 -8-11 -8-13 -6-12 -10-25 -4-14 -4-17 -4-30 0-28 2-31 8-51 12-64z"/>
</g></g></g>
<g clip-path="url(#plotclip)" transform="translate(0,894.8)"><use href="#salt"/></g>
<path d="M128.5,997.6 V1749.2 H2546.2" fill="none" stroke="#262626" stroke-width="5.3" stroke-linecap="butt" stroke-linejoin="miter"/>
<path d="M128.5,1002.2H155.0M128.5,1252.2H155.0M128.5,1502.2H155.0M129.8,1749.2V1722.7M613.6,1749.2V1722.7M1097.4,1749.2V1722.7M1581.2,1749.2V1722.7M2065.0,1749.2V1722.7" stroke="#262626" stroke-width="5.3" fill="none"/>
<text x="104.5" y="1025.5" font-size="65" fill="#262626" text-anchor="end">0</text>
<text x="104.5" y="1275.5" font-size="65" fill="#262626" text-anchor="end">1</text>
<text x="104.5" y="1525.5" font-size="65" fill="#262626" text-anchor="end">2</text>
<text x="129.8" y="1831.6" font-size="65" fill="#262626" text-anchor="middle">0</text>
<text x="613.6" y="1831.6" font-size="65" fill="#262626" text-anchor="middle">2</text>
<text x="1097.4" y="1831.6" font-size="65" fill="#262626" text-anchor="middle">4</text>
<text x="1581.2" y="1831.6" font-size="65" fill="#262626" text-anchor="middle">6</text>
<text x="2065.0" y="1831.6" font-size="65" fill="#262626" text-anchor="middle">8</text>
<text transform="translate(46.3,1375.6) rotate(-90)" font-size="64.5" fill="#262626" text-anchor="middle">Depth (km)</text>
<text x="152.5" y="1088.3" font-size="100" letter-spacing="1.3" fill="#fff">(b)</text>
<rect x="1861.4" y="1037.5" width="646.2" height="73.4" fill="#b3b3b3" stroke="#000" stroke-width="4.8"/>
<path d="M1875,1074.3H2014" stroke="#fff" stroke-width="9"/>
<text x="2023.5" y="1093.6" font-size="55.4" fill="#000">True Salt Boundary</text>
<rect x="2580.5" y="999.3" width="56.2" height="749" fill="url(#jetbar)" stroke="#3a3a3a" stroke-width="1.6"/>
<path d="M2636.7,1169.9h-7M2636.7,1340.5h-7M2636.7,1511.1h-7M2636.7,1681.7h-7" stroke="#262626" stroke-width="2" fill="none"/>
<text x="2657" y="1022.8" font-size="65" fill="#262626">0</text>
<text x="2657" y="1193.4" font-size="65" fill="#262626">-0.1</text>
<text x="2657" y="1364.0" font-size="65" fill="#262626">-0.2</text>
<text x="2657" y="1534.6" font-size="65" fill="#262626">-0.3</text>
<text x="2657" y="1705.2" font-size="65" fill="#262626">-0.4</text>
<text x="2531" y="963.6" font-size="65" fill="#000">g/cm<tspan font-size="52" dy="-31" dx="-4">3</tspan></text>
<rect x="128.5" y="1895.5" width="2416.5" height="749.2" fill="#800000"/>
<clipPath id="clipC"><path d="M128,1977 430,1977 430,1980 716,1980 716,1976 1007,1976 1007,1971 1265,1971 1265,1966 1342,1966 1342,1961 1508,1961 1508,1957 1614,1957 1614,1953 2200,1953 2200,1921 2546,1921 2546,2650 128,2650 Z"/></clipPath>
<filter id="blurC" x="90" y="1870" width="2500" height="820" filterUnits="userSpaceOnUse" color-interpolation-filters="sRGB"><feGaussianBlur stdDeviation="7"/></filter>
<filter id="blurC3" x="90" y="1870" width="2500" height="820" filterUnits="userSpaceOnUse" color-interpolation-filters="sRGB"><feGaussianBlur stdDeviation="2.5"/></filter>
<filter id="blurC2" x="90" y="1870" width="2500" height="820" filterUnits="userSpaceOnUse" color-interpolation-filters="sRGB"><feGaussianBlur stdDeviation="1.2"/></filter>
<g clip-path="url(#plotclipC)"><g clip-path="url(#clipC)"><g filter="url(#blurC)">
<path fill="#840000" fill-rule="evenodd" d="M372 1882l4-2 1126 0 2 2 5 2 63 24 16 8 10 7 10 8 8 9 7 10 7 12 5 12 3 12 1 12 1 20 -2 24 -1 18 -4 24 -4 24 -6 26 -14 40 -23 46 -26 48 -39 58 -20 26 -24 28 -61 58 -34 29 -76 60 -28 24 -9 9 -25 31 -9 13 -22 42 -19 32 -766 0 -6-4 -44-26 -36-27 -22-19 -16-17 -18-21 -15-20 -13-20 -10-16 -11-20 -11-24 -15-40 -7-26 -4-22 -5-34 -6-76 -1-80 4-46 2-22 5-32 12-64 10-40 7-18 8-14 9-12 11-10 14-9 18-9zM1208 2043l-2 3 0 3 2 1 3 0 2-2 0-2 -1-2 -2-1zM2205 1880l373 0 0 671 -26 2 -26-1 -28-3 -26-4 -26-7 -26-9 -26-12 -24-13 -24-15 -22-16 -22-19 -20-19 -19-21 -18-24 -17-24 -15-26 -15-28 -13-30 -10-30 -9-30 -7-32 -6-32 -3-32 -2-32 1-28 2-28 4-26 6-28 8-26 10-26 12-26z"/>
<path fill="#880000" fill-rule="evenodd" d="M739 1882l9-2 8 0 400 0 14 2 154 6 142 17 20 4 72 27 14 7 8 5 8 8 7 8 5 8 4 10 3 10 1 10 0 16 -2 40 -6 34 -6 28 -3 12 -11 30 -20 42 -28 50 -31 46 -8 12 -23 28 -16 18 -14 15 -54 50 -30 25 -70 55 -29 25 -12 12 -26 32 -9 14 -14 24 -11 22 -8 14 -21 32 -660 0 -42-22 -52-30 -24-17 -24-19 -26-25 -18-21 -11-14 -14-22 -20-34 -9-18 -8-20 -9-26 -6-24 -8-56 -6-76 1-68 3-44 5-38 12-72 9-36 7-18 8-14 6-6 8-7 8-5 8-4 84-29 12-3 158-19zM1210 2040l-5 2 -1 2 -2 4 2 4 4 1 6-1 2-2 1-2 -1-3 -2-3zM2239 1904l16-24 323 0 0 622 -26 2 -24 0 -24-3 -24-4 -24-6 -22-8 -24-11 -22-11 -22-14 -20-15 -20-17 -20-20 -18-21 -17-22 -14-22 -14-24 -12-26 -12-28 -8-26 -9-30 -6-30 -4-30 -2-30 0-30 1-26 4-26 6-26 6-24 9-24 11-24z"/>
<path fill="#8c0000" fill-rule="evenodd" d="M2281 1902l16-22 281 0 0 582 -24 2 -22 0 -24-2 -22-4 -24-7 -22-8 -22-10 -20-11 -20-13 -19-15 -18-16 -17-18 -17-20 -14-20 -14-22 -13-24 -10-24 -9-24 -8-26 -7-28 -5-28 -2-28 -1-28 0-26 3-24 4-24 7-24 8-24 10-22 12-22zM768 1904l154-1 18-1 160 1 222 8 134 16 22 4 72 27 8 4 8 5 6 5 5 6 4 8 3 8 1 10 0 12 -2 34 -5 38 -7 32 -10 28 -4 10 -17 34 -13 24 -15 26 -10 16 -23 34 -15 20 -26 30 -16 16 -42 40 -22 19 -88 69 -30 26 -12 12 -28 36 -10 14 -33 60 -30 44 -575 0 -10-6 -44-19 -34-17 -52-31 -20-14 -22-17 -26-25 -15-17 -9-12 -17-26 -17-30 -8-16 -8-20 -10-28 -5-20 -5-34 -2-20 -5-66 0-70 3-46 2-20 4-28 11-58 11-44 4-10 6-8 10-8 12-6 80-27 14-3 150-18zM1208 2037l-6 5 -2 4 0 4 2 4 2 1 4 1 6-1 4-2 1-3 0-6 -5-5 -4-2z"/>
<path fill="#910000" fill-rule="evenodd" d="M2319 1900l18-20 241 0 0 548 -22 1 -22 0 -22-2 -22-4 -22-6 -20-7 -20-10 -20-11 -18-12 -18-15 -17-16 -17-18 -14-18 -13-20 -13-22 -11-22 -10-24 -8-24 -6-24 -5-24 -3-26 -2-28 0-24 2-24 5-24 5-22 8-22 9-22 11-20 12-20zM772 1922l152 0 16-1 160 0 12 1 18 0 190 7 134 16 18 3 76 29 6 4 4 3 4 5 3 5 2 8 0 8 -2 42 -5 32 -6 26 -9 30 -22 44 -22 40 -14 24 -20 30 -21 27 -22 25 -56 54 -34 29 -76 59 -30 26 -14 14 -28 36 -11 16 -15 26 -10 20 -9 16 -21 30 -16 22 -507 0 -7-4 -84-38 -32-16 -50-29 -36-26 -18-16 -11-11 -22-26 -19-28 -17-30 -8-16 -11-28 -5-16 -4-18 -5-32 -2-20 -5-66 0-66 3-46 2-20 4-26 11-58 9-40 4-8 4-6 6-5 10-5 76-25 12-3 148-18zM1206 2035l-6 5 -3 4 0 4 1 6 2 2 6 2 6 0 6-2 3-2 2-4 0-4 -2-4 -3-4 -4-3 -4-1z"/>
<path fill="#960000" fill-rule="evenodd" d="M2352 1897l18-17 208 0 0 520 -22 3 -20 0 -22-3 -20-3 -20-6 -20-7 -20-10 -18-11 -18-12 -18-15 -16-16 -14-16 -15-20 -12-20 -11-20 -10-22 -8-22 -7-24 -5-24 -4-24 -2-26 0-24 1-22 4-22 5-22 7-22 9-20 10-20 11-18 14-18zM934 1934l166 0 38 2 46 1 10 1 104 3 22 1 140 17 10 2 70 27 8 4 4 6 2 6 0 8 -2 36 -5 34 -6 30 -10 28 -19 38 -22 40 -15 24 -20 30 -19 24 -24 28 -54 52 -32 27 -76 59 -30 26 -16 16 -28 36 -13 18 -13 24 -12 23 -19 31 -16 22 -17 20 -458 0 -24-12 -92-41 -30-15 -52-30 -20-15 -20-15 -21-20 -16-18 -10-14 -12-18 -13-22 -12-24 -11-28 -8-26 -3-18 -5-38 -5-66 0-68 4-52 5-38 12-62 8-32 2-6 3-4 4-3 6-3 80-26 154-19 224-10 150 0zM1208 2032l-6 3 -5 5 -3 6 1 6 2 4 5 3 6 2 8-1 4-2 4-4 1-4 0-6 -3-6 -4-3 -6-3z"/>
<path fill="#9c0000" fill-rule="evenodd" d="M2382 1895l19-15 177 0 0 498 -20 2 -22 0 -20-2 -20-4 -20-5 -20-8 -18-9 -18-12 -18-13 -16-15 -16-16 -12-16 -13-18 -12-20 -9-20 -9-22 -7-22 -6-22 -4-24 -2-24 -1-24 1-20 3-22 4-20 6-20 8-20 10-20 11-18 14-18 14-16zM936 1944l162 0 38 2 48 1 8 1 104 3 22 1 148 18 70 27 4 2 3 3 1 4 0 6 -2 36 -5 32 -6 28 -9 28 -18 36 -22 40 -15 24 -20 30 -19 24 -24 28 -52 50 -38 31 -70 55 -30 26 -18 18 -29 36 -13 19 -14 25 -11 22 -20 32 -22 30 -17 16 -417 0 -3-2 -44-20 -90-40 -30-15 -52-31 -32-24 -18-15 -17-19 -16-20 -13-20 -22-40 -8-18 -8-24 -4-16 -5-34 -2-18 -5-66 0-62 1-18 3-38 5-36 11-60 8-32 3-6 3-3 4-1 78-26 152-19 226-10 150 0zM1206 2030l-7 4 -5 6 -2 6 0 6 4 6 6 4 8 1 8-2 5-3 3-4 2-6 -1-6 -4-6 -7-6 -6-1z"/>
<path fill="#a10000" fill-rule="evenodd" d="M2412 1893l21-13 145 0 0 478 -20 2 -20 0 -20-1 -18-4 -20-6 -18-7 -18-9 -18-11 -16-13 -16-14 -15-17 -13-17 -13-19 -10-20 -9-20 -8-22 -6-22 -5-24 -2-22 -1-24 0-20 3-20 4-20 6-20 8-20 9-18 11-18 12-16 15-16 15-14zM942 1952l154 0 56 2 66 4 48 0 48 2 78 9 70 10 65 25 4 2 3 2 0 4 -2 34 -4 29 -6 29 -10 30 -16 32 -22 40 -6 10 -28 42 -20 26 -24 28 -50 47 -34 29 -74 57 -30 26 -20 20 -30 37 -11 16 -16 28 -11 21 -16 26 -10 15 -18 23 -12 10 -10 8 -2 3 -361 0 -2-2 -3-1 -25-7 -5-2 -121-54 -41-20 -54-32 -30-22 -21-18 -19-22 -12-16 -16-26 -16-29 -8-20 -8-24 -4-17 -4-27 -2-19 -5-66 -1-60 4-44 4-35 12-67 8-32 2-4 8-4 72-24 152-19 224-11 150-1zM1210 2026l-6 2 -8 6 -4 6 -2 6 0 6 3 6 5 4 8 2 10 0 4-2 4-2 5-6 1-6 0-4 -1-4 -5-6 -8-6z"/>
<path fill="#a80000" fill-rule="evenodd" d="M2444 1891l24-11 110 0 0 460 -20 3 -20 0 -20-2 -18-4 -20-6 -18-8 -18-10 -16-11 -16-13 -15-15 -14-16 -12-18 -12-20 -9-20 -8-20 -6-22 -5-22 -3-22 -1-22 0-22 3-20 3-18 6-20 8-18 9-18 11-18 13-16 14-15 16-14 16-11zM943 1958l129-1 50 1 30 2 26 3 36 7 22-3 28-3 28 0 22 0 50 5 32 4 26 5 32 7 8 2 18 9 33 18 5 4 1 8 -1 18 -3 30 -6 28 -8 24 -6 14 -10 20 -23 40 -16 24 -19 28 -21 25 -26 28 -44 41 -38 30 -78 57 -26 21 -25 22 -31 35 -17 21 -31 46 -16 22 -12 14 -16 16 -23 16 -9 8 -7 12 -5 12 -263 0 -3-10 -6-10 -8-8 -8-6 -10-4 -32-9 -16-6 -62-28 -70-32 -14-8 -48-29 -28-21 -18-16 -15-17 -18-24 -14-22 -11-18 -12-28 -5-16 -6-28 -5-24 -4-36 -3-30 -1-48 2-30 2-26 5-34 12-58 4-14 3-4 40-19 14-6 8-3 32-7 26-5 88-13 132-12 92-6 150-4zM1206 2024l-9 6 -7 8 -3 8 0 4 1 4 4 6 4 3 4 2 10 1 10-2 6-3 4-5 2-6 0-8 -5-8 -7-7 -8-4 -2 0z"/>
<path fill="#b30000" fill-rule="evenodd" d="M2523 1894l27-1 14 0 14 2 0 413 -18 3 -20 0 -18-1 -18-4 -18-6 -18-8 -16-10 -16-11 -14-13 -14-15 -12-16 -11-19 -9-18 -8-20 -6-20 -5-20 -2-22 -1-22 0-18 3-18 4-18 6-18 7-16 10-16 11-16 13-15 14-13 14-11 16-10 16-8 18-7 18-5zM944 1965l140-3 34 1 22 2 12 2 24 5 22 8 14 7 4-1 18-7 22-6 10-2 26-2 22 0 50 4 32 5 24 5 18 5 22 9 33 23 9 7 1 3 1 10 -2 18 -1 16 -5 22 -7 24 -8 18 -8 16 -28 46 -33 46 -18 21 -22 23 -46 41 -24 19 -36 26 -36 24 -48 34 -30 24 -50 52 -40 48 -22 23 -22 19 -32 18 -11 8 -11 10 -9 10 -10 12 -7 12 -4 8 -128 0 -9-16 -12-16 -14-14 -15-11 -14-8 -14-6 -12-4 -32-8 -36-14 -84-38 -34-18 -46-29 -28-22 -12-11 -8-9 -21-26 -23-32 -7-14 -10-22 -5-18 -6-22 -8-44 -4-32 -2-40 1-18 3-40 3-22 6-26 9-37 1-3 3-3 26-16 14-8 32-11 30-7 82-16 154-18 70-6zM1208 2016l-10 7 -8 8 -5 9 -2 6 0 4 3 8 6 6 9 4 11 1 10-2 8-5 3-4 2-4 1-8 0-4 -2-6 -8-11 -12-9 -2-1z"/>
<path fill="#bd0000" fill-rule="evenodd" d="M2525 1918l13-1 14 0 14 1 12 2 0 359 -18 3 -16 1 -16-1 -16-3 -16-5 -16-7 -14-8 -14-10 -13-11 -11-12 -12-15 -9-15 -9-16 -6-16 -6-18 -4-18 -3-20 -1-18 0-16 2-16 3-16 5-16 7-16 8-14 10-14 11-13 12-11 12-10 14-9 14-7 16-6 16-5zM944 1970l128-4 46 2 20 1 10 2 18 5 10 4 14 8 5 4 5 6 2 6 -1 4 -2 4 -11 14 -6 10 -2 10 1 8 3 7 6 6 8 3 10 2 10-1 8-3 6-4 6-8 2-8 0-4 -1-6 -5-10 -11-18 -1-6 2-6 6-6 19-10 13-4 16-4 12-1 22 0 52 3 24 3 16 4 24 7 26 12 8 5 10 9 18 17 2 5 0 20 -1 14 -5 24 -7 22 -12 26 -31 50 -32 44 -20 22 -26 26 -40 35 -30 22 -30 21 -92 60 -23 18 -63 60 -42 42 -22 18 -22 15 -32 15 -32 18 -25 18 -15 12 -16 15 -2 1 -4-2 -23-18 -22-16 -27-16 -19-10 -15-6 -17-6 -15-4 -34-9 -26-9 -40-17 -74-35 -27-16 -30-20 -27-23 -19-19 -34-44 -8-12 -8-14 -8-22 -6-18 -7-24 -6-34 -2-18 -3-38 0-18 2-30 5-30 5-24 8-28 1-3 3-3 25-19 17-9 19-8 28-8 78-16 130-20 68-8 118-8z"/>
<path fill="#c70000" fill-rule="evenodd" d="M2530 1940l12-1 12 0 12 1 12 3 0 310 -22 3 -14 1 -14-2 -14-2 -14-5 -14-7 -12-7 -11-8 -11-10 -10-11 -10-13 -8-12 -7-14 -6-16 -5-16 -3-16 -2-16 -1-16 1-14 2-14 3-14 5-14 5-12 7-12 9-12 10-11 10-10 12-9 12-7 12-6 14-5 14-4zM994 1971l90-1 32 1 24 2 10 2 12 5 8 4 8 5 5 5 3 4 2 4 1 6 -1 8 -8 16 -3 8 -1 8 1 6 3 6 4 6 6 4 8 3 12 2 14-3 10-5 6-8 3-9 0-8 -2-10 -6-16 -1-8 2-6 7-8 8-6 8-4 17-5 10-2 28-1 50 2 30 5 26 8 23 11 9 6 6 5 15 15 8 10 2 4 0 4 -1 24 -4 22 -7 22 -6 16 -9 16 -26 42 -22 29 -12 15 -16 18 -22 22 -8 8 -38 31 -38 28 -32 21 -84 52 -22 16 -8 6 -36 33 -52 45 -22 18 -16 11 -28 15 -58 21 -44 19 -4-1 -37-13 -55-18 -76-18 -30-11 -24-10 -62-29 -28-15 -27-17 -25-19 -26-24 -10-11 -29-36 -12-18 -6-10 -11-28 -9-28 -6-26 -3-20 -2-26 -1-26 0-18 2-20 4-24 4-18 7-24 4-5 12-12 22-16 12-6 18-8 14-4 22-5 52-12 108-18 44-7 70-9 134-11z"/>
<path fill="#d10000" fill-rule="evenodd" d="M2527 1962l13-1 12 0 14 1 12 3 0 262 -20 4 -12 0 -12 0 -12-2 -12-4 -12-5 -10-5 -10-7 -10-9 -9-9 -8-10 -8-12 -6-12 -5-12 -4-14 -3-12 -2-14 -1-14 0-12 3-22 3-12 4-10 7-12 6-10 8-10 8-8 9-8 10-7 10-5 12-5 12-4zM994 1975l88-2 44 2 12 1 8 2 6 2 10 5 7 5 7 6 3 6 2 6 0 6 -1 4 -5 16 -2 10 0 8 3 8 6 8 6 5 8 3 12 2 12-2 8-2 8-5 6-8 4-9 1-6 -1-8 -4-20 0-6 1-4 2-6 4-4 6-6 7-4 12-5 8-2 32-2 50 2 16 2 16 3 23 8 21 12 13 10 15 18 6 10 1 6 0 18 -5 24 -6 22 -13 26 -25 40 -17 22 -19 24 -20 22 -26 25 -36 29 -46 32 -122 74 -19 14 -35 31 -28 22 -32 24 -22 15 -22 11 -28 11 -80 21 -4 0 -10-2 -56-10 -94-18 -28-9 -16-6 -16-7 -57-27 -17-9 -24-15 -20-14 -16-13 -17-15 -13-14 -26-31 -16-21 -5-8 -13-28 -9-26 -6-24 -3-16 -3-26 -1-28 1-16 1-18 4-22 4-18 6-18 6-8 12-12 12-10 8-6 16-8 16-7 72-17 108-21 44-8 70-9 96-10 62-5z"/>
<path fill="#db0000" fill-rule="evenodd" d="M994 1978l90-2 30 1 22 2 14 4 12 7 6 6 3 4 2 4 2 8 0 8 -4 16 -1 8 0 8 2 6 4 8 5 6 7 4 8 3 12 1 16-2 8-4 8-7 6-10 4-11 0-6 -3-22 2-8 4-8 9-9 10-6 10-3 32-3 48 1 18 3 22 5 12 5 10 5 12 8 9 8 8 8 8 12 5 10 1 4 1 8 0 10 -5 24 -5 18 -5 12 -8 16 -22 34 -13 18 -26 31 -20 21 -24 23 -40 32 -40 27 -42 26 -84 48 -20 14 -36 30 -26 19 -18 13 -26 16 -28 13 -34 11 -16 4 -58 9 -18-2 -54-3 -54-7 -20-4 -12-3 -32-10 -42-18 -52-26 -32-20 -23-18 -25-23 -44-51 -10-14 -14-28 -9-24 -6-22 -3-12 -3-28 -1-24 1-18 1-14 4-20 4-18 4-12 11-14 10-12 11-10 9-6 11-6 12-4 70-18 128-27 66-11 120-14 60-5zM2534 1982l10-1 12 1 12 2 10 2 0 215 -12 4 -12 2 -10 0 -10-1 -10-2 -10-3 -10-4 -8-5 -8-6 -8-7 -8-8 -7-9 -6-10 -5-10 -4-10 -3-12 -4-22 -1-20 4-20 3-10 4-10 11-17 6-7 8-7 16-12 10-5 10-4z"/>
<path fill="#e50000" fill-rule="evenodd" d="M1013 1980l61-2 40 1 22 2 14 6 6 3 6 6 4 5 2 5 2 14 -2 16 0 14 2 9 4 8 6 7 6 4 8 3 12 2 10-1 12-4 8-5 6-6 6-11 3-10 1-10 0-18 2-8 4-6 6-8 4-3 6-3 6-3 6-1 32-3 44 1 16 2 14 3 20 7 12 7 15 13 10 12 7 12 5 14 0 14 -3 18 -7 24 -9 20 -29 44 -32 40 -19 20 -28 26 -18 15 -26 19 -36 24 -42 24 -84 46 -20 14 -40 32 -24 16 -16 10 -24 14 -10 4 -16 6 -30 8 -18 3 -18 3 -30 1 -10 2 -20-1 -20 1 -32 0 -50-4 -20-3 -14-3 -28-9 -24-10 -56-27 -24-14 -19-13 -20-16 -24-22 -34-38 -13-15 -7-9 -14-26 -9-22 -6-20 -2-10 -3-26 -2-26 1-14 1-14 3-16 4-18 3-8 7-12 12-16 9-10 9-7 9-5 11-4 66-18 98-23 52-11 48-8 116-14 62-6zM2536 2002l10-1 12 1 10 2 10 4 0 168 -12 5 -14 2 -16 0 -16-5 -14-7 -14-11 -10-12 -9-16 -7-18 -3-18 0-16 2-16 6-16 9-14 11-12 13-9 16-7z"/>
<path fill="#f00000" fill-rule="evenodd" d="M996 1983l80-2 38 1 22 2 12 5 9 7 4 6 2 4 3 14 -1 16 1 14 2 8 5 10 5 7 8 5 8 3 12 1 8 0 14-4 6-4 8-8 6-10 4-9 4-19 1-12 2-8 4-6 4-6 5-4 6-3 10-3 32-3 42 1 16 2 12 3 18 6 12 7 12 10 10 12 8 14 5 16 0 12 -3 18 -7 22 -9 20 -28 43 -33 39 -19 20 -26 24 -16 13 -28 20 -38 25 -40 23 -86 45 -20 13 -40 31 -26 17 -14 8 -24 11 -14 5 -18 4 -36 6 -32 2 -50 1 -22 3 -30 1 -44-2 -14-2 -12-2 -32-9 -22-9 -56-27 -24-14 -18-13 -19-16 -18-16 -11-12 -9-10 -35-38 -15-24 -11-24 -5-14 -2-10 -4-26 -1-26 0-12 1-12 7-34 9-18 8-14 8-10 6-6 9-6 14-6 64-18 124-30 68-13 118-16 40-4zM2533 2022l11-1 12 0 12 3 10 5 0 122 -12 6 -12 3 -12 1 -12-3 -12-5 -10-7 -10-10 -7-12 -5-12 -3-14 -1-14 1-12 4-12 5-10 8-10 10-8 10-6z"/>
<path fill="#fa0000" fill-rule="evenodd" d="M1036 1984l28 0 16-1 32 1 22 2 12 5 6 5 5 6 2 4 3 16 1 16 3 16 2 8 4 8 6 7 8 5 8 2 12 2 12-2 10-3 7-5 7-7 6-9 4-9 8-33 3-8 7-10 4-4 6-3 8-3 32-3 42 0 22 4 16 5 14 7 7 5 7 6 8 10 9 18 4 16 0 8 -2 18 -7 22 -8 18 -28 42 -16 20 -20 23 -18 18 -28 25 -34 25 -42 27 -42 23 -34 18 -36 17 -28 16 -48 35 -26 16 -14 8 -22 10 -8 2 -12 3 -30 4 -12 1 -34 0 -16-1 -28 1 -14 1 -20 4 -28 3 -40-1 -14-1 -10-2 -32-9 -20-8 -54-27 -24-14 -16-11 -36-32 -12-12 -8-10 -34-34 -4-5 -14-21 -8-18 -5-12 -2-10 -4-26 -2-26 1-20 7-30 12-28 5-8 6-9 4-4 8-5 8-3 12-4 22-6 30-10 96-25 42-10 54-11 120-17 40-4 74-6zM2534 2040l12-2 12 2 10 4 10 7 0 74 -5 5 -6 4 -7 3 -6 2 -10 1 -8-1 -8-3 -8-6 -7-6 -5-8 -4-8 -3-10 -1-10 0-10 2-8 4-8 5-8 7-6 8-5z"/>
<path fill="#ff0600" fill-rule="evenodd" d="M1075 1986l35 1 16 1 10 2 6 3 5 3 5 6 4 6 4 16 5 32 3 9 4 7 5 6 7 4 10 4 12 1 8-1 13-4 7-4 8-8 6-9 4-9 9-30 4-10 7-11 8-6 4-2 6-1 30-4 40 1 14 2 12 2 14 5 14 8 12 10 7 10 8 16 2 10 1 12 -3 20 -6 20 -8 18 -29 42 -23 28 -27 27 -28 25 -14 11 -28 20 -38 23 -42 23 -30 15 -39 18 -29 16 -46 32 -27 16 -25 12 -19 6 -23 3 -22 1 -34-2 -16-1 -22 0 -22 2 -24 5 -18 3 -14 1 -32 0 -17-2 -37-10 -20-8 -49-24 -23-14 -16-11 -36-33 -10-10 -8-10 -36-33 -14-20 -8-15 -6-15 -2-7 -4-27 -2-27 1-16 7-29 10-26 8-13 7-6 7-4 18-6 18-5 27-9 101-28 40-10 59-12 111-18 40-4 74-6 14 0 28-2 28-1zM2536 2056l6-1 6-1 6 1 7 3 5 4 4 4 4 6 2 6 1 6 -1 8 -1 6 -3 6 -4 6 -4 4 -6 4 -6 2 -6 1 -6-1 -6-2 -4-2 -4-4 -4-5 -3-5 -2-6 -2-12 1-6 2-6 4-6 4-4 4-3z"/>
<path fill="#ff1300" fill-rule="evenodd" d="M1321 1990l41 1 16 2 14 4 16 8 10 8 10 11 5 10 5 12 2 16 -1 12 -2 12 -6 18 -8 16 -25 36 -28 32 -12 12 -16 16 -28 24 -24 17 -18 12 -36 23 -42 23 -28 14 -57 25 -23 12 -40 25 -18 10 -20 9 -22 8 -18 4 -30 2 -32-1 -14-2 -28 0 -28 3 -34 5 -16 1 -26-1 -14-2 -18-4 -20-6 -34-15 -32-17 -26-16 -16-13 -32-30 -10-12 -26-26 -11-12 -11-18 -5-10 -5-14 -5-30 -1-22 0-8 3-16 4-16 6-16 5-10 4-4 10-5 50-22 22-7 28-9 50-13 36-8 22-4 40-13 50-13 22-5 36-6 42-5 68-2 86-9 32 0 22 2 10 5 7 6 2 4 6 16 8 36 5 12 4 6 6 4 10 4 8 2 12 0 8-2 11-4 8-6 7-7 4-7 6-12 5-16 6-18 6-10 5-5 6-4 6-3 18-3zM2541 2072l5-1 6 2 4 3 3 6 1 6 -2 6 -4 4 -4 3 -6 0 -4-1 -4-4 -3-6 -1-6 1-4 3-5z"/>
<path fill="#ff2000" fill-rule="evenodd" d="M1300 1994l28-3 32 1 16 2 14 5 14 7 10 7 9 9 6 10 5 12 3 12 0 14 -3 14 -6 18 -7 16 -26 36 -41 45 -14 13 -26 22 -34 25 -46 29 -38 21 -20 10 -26 12 -37 15 -21 10 -52 29 -26 13 -18 7 -12 4 -16 3 -28 3 -18-1 -30-1 -28 0 -28 2 -30 3 -20 2 -24-2 -14-2 -14-3 -22-6 -32-15 -32-17 -24-15 -16-13 -32-30 -42-47 -13-20 -8-20 -4-26 -1-28 3-14 3-14 5-14 4-8 3-3 8-5 46-23 20-8 30-10 48-12 36-7 22-3 50-18 36-12 22-6 28-6 14-3 38-3 70-1 18-2 66-10 30 0 14 1 10 2 8 3 6 6 3 4 7 16 8 36 5 10 5 7 7 5 11 4 6 1 12 0 11-3 9-4 8-6 6-6 4-6 6-12 5-16 8-20 9-13 6-4 6-3z"/>
</g><g filter="url(#blurC3)">
<path fill="#ff2d00" fill-rule="evenodd" d="M1306 1994l20-2 28 1 16 1 10 3 12 4 16 9 10 9 8 11 6 14 2 10 1 10 -2 18 -6 18 -6 14 -11 16 -16 21 -42 45 -14 13 -26 22 -36 26 -44 28 -38 22 -18 8 -26 12 -38 15 -22 10 -17 8 -37 20 -24 11 -24 9 -10 3 -10 2 -28 2 -18 0 -30-1 -28 0 -30 1 -26 3 -20 1 -26-1 -12-2 -34-9 -22-10 -42-22 -22-14 -16-13 -31-30 -37-42 -6-8 -9-14 -7-18 -3-22 -1-28 2-12 3-14 5-14 2-4 8-6 42-24 22-10 28-10 48-12 60-10 50-20 34-13 22-7 26-6 16-2 36-3 46 0 24 0 20-3 64-11 28-1 16 1 8 2 8 3 7 6 2 4 8 16 9 37 4 9 5 6 7 5 10 3 8 2 12 0 8-2 10-4 8-5 8-8 6-9 4-9 13-35 5-8 5-6 5-4 6-2z"/>
<path fill="#ff3900" fill-rule="evenodd" d="M1302 1996l28-3 28 1 12 2 14 4 12 5 12 7 10 10 8 12 5 12 2 10 0 16 -2 12 -6 16 -7 14 -9 14 -17 22 -42 44 -15 14 -24 20 -29 21 -54 35 -36 20 -22 11 -22 10 -35 13 -25 10 -18 9 -40 20 -24 11 -16 5 -16 4 -34 4 -76-1 -32 1 -22 2 -22 1 -24-2 -12-1 -12-3 -22-6 -22-10 -40-22 -22-14 -14-12 -32-30 -34-40 -7-10 -7-12 -6-16 -3-20 -1-26 3-18 5-16 2-4 2-2 34-24 10-6 18-9 34-12 44-10 34-6 20-2 8-2 14-6 50-22 20-9 20-6 22-6 18-3 36-3 48 1 22 0 20-3 66-12 24-2 20 2 6 1 6 3 6 4 3 4 8 16 8 32 3 8 3 6 4 6 7 5 10 4 8 2 12 0 8-2 14-5 8-6 6-6 6-9 4-8 9-25 6-12 5-8 4-5 6-4 6-3z"/>
<path fill="#ff4600" fill-rule="evenodd" d="M1324 1994l18 0 20 1 16 4 12 4 14 8 10 9 7 8 6 12 3 10 2 12 -1 14 -3 10 -5 14 -7 14 -10 14 -16 21 -42 44 -15 13 -24 20 -29 21 -62 39 -28 16 -30 15 -50 19 -40 16 -62 29 -20 7 -16 4 -32 3 -76-1 -70 4 -14-1 -24-3 -14-3 -22-6 -22-10 -38-21 -21-14 -13-10 -31-30 -24-28 -11-14 -7-10 -6-12 -4-12 -3-18 -1-26 2-14 4-14 2-4 5-4 20-16 14-10 24-13 30-11 42-9 36-6 18-1 10-3 16-6 36-19 28-13 28-10 20-5 12-3 10 0 28-2 48 2 22 0 20-3 66-14 20-2 24 2 6 1 6 3 5 4 4 6 6 10 2 6 7 28 4 10 6 11 8 5 10 4 8 2 12-1 8-1 14-6 6-4 8-8 6-8 4-8 11-28 5-10 5-8 5-5 6-4 12-4z"/>
<path fill="#ff5300" fill-rule="evenodd" d="M1300 1998l28-3 26 0 14 2 12 3 14 7 12 7 10 10 7 10 5 12 2 10 0 16 -3 12 -6 16 -6 12 -9 14 -16 20 -44 45 -38 33 -28 20 -64 41 -28 16 -30 14 -88 33 -62 27 -18 7 -20 5 -32 3 -74-1 -66 3 -14-1 -24-2 -16-4 -22-6 -22-10 -36-21 -20-13 -14-11 -31-30 -22-26 -12-16 -6-10 -5-10 -4-10 -2-16 -1-24 1-12 4-12 2-4 15-14 12-10 11-8 22-12 20-8 10-3 38-9 36-5 18-1 14-3 16-8 38-21 26-13 16-6 12-4 14-4 12-3 28-2 14 0 46 2 24 0 18-2 66-16 20-2 24 1 8 3 6 4 4 4 6 10 5 12 9 32 4 8 4 6 8 5 8 3 10 2 10 0 10-1 12-5 8-5 8-8 6-9 4-7 15-37 6-8 5-6 4-3 6-3z"/>
<path fill="#ff6000" fill-rule="evenodd" d="M1318 1996l22-1 20 1 12 3 12 4 14 7 10 8 10 10 5 10 4 10 1 8 0 16 -2 12 -7 18 -5 10 -10 14 -16 19 -44 45 -38 32 -40 28 -48 31 -24 14 -20 10 -24 10 -82 30 -62 26 -16 6 -20 5 -32 3 -74 0 -62 1 -18 0 -22-3 -16-3 -22-7 -20-9 -38-22 -20-13 -11-9 -31-30 -20-24 -18-26 -5-10 -3-10 -3-14 -1-22 1-10 3-10 3-4 11-12 12-12 10-8 12-8 12-6 16-7 22-6 28-6 32-4 20-1 14-3 10-4 10-6 38-22 26-14 16-7 20-6 18-4 26-1 58 3 22-1 22-3 64-16 20-2 24 1 8 3 6 4 4 5 6 9 7 18 7 26 2 6 5 6 5 4 8 4 12 3 12 0 10-1 12-5 8-6 8-7 6-9 4-7 16-38 6-8 4-5 6-4 12-4z"/>
<path fill="#ff6c00" fill-rule="evenodd" d="M1326 1996l16 0 18 1 14 3 12 5 14 8 10 8 7 9 7 12 3 10 0 10 0 14 -3 10 -8 18 -4 8 -10 14 -16 19 -42 43 -40 33 -40 27 -48 31 -26 16 -18 9 -26 11 -80 27 -62 25 -14 5 -20 5 -32 3 -74 0 -58 1 -22-1 -20-2 -16-3 -20-6 -22-10 -36-21 -20-13 -11-9 -31-30 -20-24 -16-26 -7-18 -2-12 -1-22 1-10 2-6 14-18 12-12 10-8 12-8 9-5 14-6 22-6 28-5 30-4 20-1 16-3 12-5 12-7 34-22 26-15 16-7 20-7 16-3 26-1 60 4 20 0 22-4 50-14 16-3 18-3 22 1 8 2 6 4 4 4 6 10 8 18 8 28 2 5 4 6 8 6 9 3 11 2 10 0 10-2 12-5 8-5 8-8 6-8 4-7 17-39 7-10 4-4 6-3 12-4z"/>
<path fill="#ff7900" fill-rule="evenodd" d="M1298 2001l30-5 16 1 18 1 16 4 12 6 13 8 10 10 6 10 5 10 2 10 0 18 -2 10 -7 16 -5 10 -10 14 -15 18 -45 45 -38 32 -28 19 -38 24 -22 15 -26 15 -20 10 -26 11 -80 27 -60 23 -14 5 -22 5 -30 3 -132 1 -22-2 -20-2 -16-4 -18-5 -21-10 -37-21 -18-12 -11-9 -31-30 -18-22 -6-10 -10-16 -7-18 -2-12 0-20 0-8 2-4 15-20 9-10 11-9 12-9 20-9 22-6 26-5 30-3 22-1 16-4 12-5 14-8 33-23 25-15 16-7 20-7 14-3 26-1 60 4 20 0 22-3 50-15 16-4 18-2 22 1 6 1 6 4 5 5 7 10 7 18 8 26 2 6 5 6 6 5 8 3 12 3 10 0 12-2 12-5 8-5 8-8 6-8 4-7 17-38 7-10 3-4 7-4z"/>
<path fill="#ff8600" fill-rule="evenodd" d="M1318 1998l14-1 22 1 14 2 12 4 14 7 9 7 10 10 6 10 4 8 2 10 0 18 -3 10 -11 24 -11 16 -14 17 -46 45 -38 32 -16 11 -48 30 -24 17 -26 15 -20 10 -24 10 -80 25 -62 24 -14 4 -20 4 -32 4 -128 0 -22-1 -20-3 -16-4 -18-5 -20-9 -36-21 -18-12 -11-9 -31-30 -15-18 -10-16 -8-16 -5-12 -2-10 -1-20 1-6 1-4 14-20 8-10 11-10 12-9 20-9 24-6 22-4 28-2 20 0 10-2 10-3 14-6 12-8 34-25 24-15 14-7 20-7 14-3 26-1 60 5 20 0 22-3 22-6 30-10 20-5 12-2 22 1 6 2 6 3 5 6 6 8 8 18 7 27 2 5 4 6 6 4 8 4 14 3 10 0 12-1 12-6 8-5 8-8 6-8 4-7 18-39 6-8 4-4 6-4 12-4z"/>
<path fill="#ff9300" fill-rule="evenodd" d="M1324 1998l18 0 18 1 10 2 12 5 15 8 9 8 8 9 6 11 3 8 1 8 -1 16 -2 10 -7 16 -4 8 -10 14 -16 19 -44 43 -38 31 -16 12 -50 31 -22 15 -28 17 -18 9 -26 11 -48 15 -32 9 -74 26 -22 4 -30 4 -88 1 -36-1 -22-2 -24-3 -16-4 -18-5 -18-9 -36-21 -18-12 -10-8 -30-30 -13-16 -11-16 -8-16 -4-12 -2-8 0-18 0-5 2-5 12-20 8-10 10-9 12-9 18-8 22-6 22-3 28-2 20-1 10-1 12-4 14-6 14-9 32-25 24-16 14-8 20-7 12-2 24-1 62 6 20 0 24-4 22-7 30-10 20-5 12-1 20 1 6 1 6 4 4 4 6 8 4 8 4 12 8 27 6 10 7 5 7 3 14 3 10 0 12-2 10-4 9-6 9-8 6-8 4-7 18-39 6-8 4-5 6-3 12-5z"/>
<path fill="#ff9f00" fill-rule="evenodd" d="M1302 2001l26-3 14 0 18 2 14 3 12 6 14 9 9 8 7 10 4 10 3 10 -1 16 -1 10 -11 24 -12 16 -14 17 -46 44 -38 31 -28 19 -36 23 -24 17 -26 15 -18 9 -26 11 -48 14 -36 10 -70 24 -22 4 -30 4 -34 1 -56 0 -40-1 -24-3 -20-3 -28-8 -18-9 -36-21 -16-11 -11-9 -30-30 -13-16 -9-14 -7-16 -5-12 -1-8 0-14 1-6 3-8 11-18 8-10 7-7 12-9 18-7 14-4 20-3 34-3 20 0 12-2 12-4 14-6 14-10 32-26 22-16 14-7 20-8 12-2 24-1 62 6 20 1 24-4 22-7 30-11 18-5 12-2 20 0 6 2 6 3 6 6 6 8 8 18 8 28 6 10 6 4 8 4 14 3 8 0 10-1 6-2 12-6 8-6 8-8 6-9 19-39 3-6 6-8 4-3 6-3z"/>
<path fill="#ffac00" fill-rule="evenodd" d="M1300 2003l28-4 16 0 18 2 14 4 10 5 13 8 10 10 7 10 3 8 2 10 0 16 -1 10 -7 16 -5 8 -10 14 -14 17 -46 44 -38 31 -16 12 -50 31 -24 17 -26 15 -16 8 -26 11 -48 14 -44 12 -56 19 -20 4 -38 5 -34 1 -54 0 -42-2 -24-2 -18-3 -28-8 -18-9 -36-22 -16-11 -10-8 -30-30 -11-14 -9-14 -11-28 -1-6 0-12 1-8 4-8 9-16 7-10 6-6 11-8 10-5 8-3 12-3 22-4 32-2 20 0 12-2 12-3 17-8 14-10 31-27 22-16 14-8 18-7 14-3 22 0 60 7 22 0 14-2 12-2 22-8 28-11 20-5 10-2 20 1 6 1 6 4 6 6 5 6 8 18 8 28 6 10 5 4 8 4 14 3 8 1 13-2 5-1 12-6 6-5 9-8 7-10 19-40 4-6 6-8 7-5z"/>
<path fill="#ffb900" fill-rule="evenodd" d="M1302 2003l26-4 14 0 18 2 10 2 12 5 12 7 8 7 8 8 6 10 3 10 2 8 0 14 -3 12 -7 16 -5 8 -9 12 -15 17 -44 42 -32 26 -22 16 -49 31 -26 18 -27 17 -38 16 -48 14 -48 13 -62 19 -20 4 -28 3 -38 2 -52 0 -42-2 -38-6 -30-8 -16-8 -38-23 -21-15 -33-32 -9-12 -10-16 -10-26 -1-6 -1-8 2-10 3-8 8-16 6-8 6-7 10-8 16-7 12-3 22-4 32-2 20 1 12-2 14-4 18-9 14-10 32-29 20-16 14-8 18-7 12-2 22 0 60 7 22 1 14-2 12-3 24-8 28-12 18-5 12-2 18 1 6 2 4 2 6 5 6 8 8 17 8 28 6 10 6 5 8 4 15 3 8 0 13-2 7-2 13-8 10-9 10-14 15-31 5-10 6-8 4-4 6-3z"/>
<path fill="#ffc600" fill-rule="evenodd" d="M1324 2000l16 0 12 1 10 1 10 3 10 4 10 6 7 5 8 8 4 6 5 10 3 8 1 8 0 12 -2 8 -10 23 -13 17 -15 17 -44 42 -38 30 -16 12 -50 31 -24 17 -24 15 -18 8 -28 11 -44 13 -48 11 -62 19 -46 7 -38 1 -52 1 -40-3 -36-5 -30-9 -16-7 -40-24 -20-14 -32-32 -9-11 -9-16 -10-26 -1-6 0-6 2-12 2-6 7-14 5-8 5-6 10-8 14-7 20-4 22-3 24-1 20 1 14-2 14-5 18-9 14-10 31-30 20-16 13-8 18-7 12-2 22-1 60 8 12 1 12 0 14-2 12-3 22-8 28-12 18-6 12-2 18 1 6 2 4 2 6 6 6 7 8 18 8 28 6 9 6 5 10 4 14 3 8-1 12-1 8-3 12-7 10-9 10-15 15-31 6-10 9-11 6-3 12-5z"/>
<path fill="#ffd200" fill-rule="evenodd" d="M1330 2000l12 0 18 2 16 5 8 4 12 8 8 7 5 6 6 10 2 8 2 8 0 12 -2 12 -10 20 -11 16 -16 18 -45 42 -37 29 -16 12 -47 29 -27 19 -24 15 -18 9 -28 10 -46 13 -46 11 -62 18 -48 7 -36 1 -52 0 -40-3 -32-5 -10-2 -24-7 -14-6 -40-25 -18-13 -33-32 -8-10 -8-14 -5-12 -5-14 0-10 2-14 2-6 6-14 5-8 6-6 7-6 9-4 6-2 10-3 20-3 30-1 22 1 14-2 14-4 20-11 14-10 31-31 19-16 12-8 18-7 12-3 22 0 60 8 12 1 12 0 14-2 12-3 22-8 28-13 18-5 12-2 18 0 6 2 6 4 6 6 4 6 8 16 7 28 7 10 5 4 9 4 14 3 8 0 14-2 6-2 12-6 12-11 10-14 20-40 10-12 6-4 12-4z"/>
<path fill="#ffdf00" fill-rule="evenodd" d="M1300 2005l28-4 12-1 18 2 8 2 10 4 8 4 12 8 7 6 6 8 5 8 3 8 1 8 0 14 -1 8 -10 20 -13 18 -16 18 -44 41 -38 30 -14 10 -48 30 -26 18 -26 16 -16 8 -26 10 -46 13 -48 10 -18 5 -34 10 -20 4 -40 5 -36 2 -48 0 -46-4 -34-6 -28-8 -16-8 -36-23 -20-15 -32-32 -11-16 -8-20 -3-10 0-4 2-20 6-14 4-8 5-6 7-6 8-5 6-2 10-2 22-4 28 0 22 1 14-2 16-5 20-10 14-12 30-31 20-17 12-8 18-7 10-2 20-1 62 10 12 1 12-1 14-2 14-3 22-9 26-12 18-6 10-2 18 0 6 2 6 3 6 5 5 7 8 16 7 26 4 8 3 4 5 4 8 4 16 3 8 1 13-2 5-1 12-7 6-4 10-10 6-8 6-11 13-27 5-8 6-8 6-4z"/>
<path fill="#ffec00" fill-rule="evenodd" d="M1302 2005l28-4 12 0 18 2 8 2 10 4 8 5 10 7 8 7 4 6 6 10 2 6 1 8 0 14 -1 8 -10 20 -13 18 -15 17 -44 40 -38 30 -16 11 -48 30 -26 19 -24 15 -16 7 -26 11 -48 12 -48 10 -16 4 -36 10 -18 4 -40 5 -36 2 -48 0 -42-4 -36-6 -28-9 -14-6 -38-24 -18-14 -32-32 -10-14 -8-18 -3-14 1-20 5-14 4-8 5-6 6-6 8-4 6-2 10-2 20-3 28-1 16 2 8-1 14-2 16-5 20-10 14-12 32-34 16-15 12-8 18-8 10-2 20 0 62 10 12 1 12-1 14-2 14-3 22-9 26-13 20-7 10-1 16 0 6 2 6 3 6 6 4 5 8 16 8 28 4 7 4 5 6 4 8 3 14 3 9 0 13-2 6-2 14-8 10-9 10-14 21-41 9-11 6-3z"/>
<path fill="#fff900" fill-rule="evenodd" d="M1323 2002l19-1 18 3 8 2 10 4 6 3 12 8 7 7 6 8 4 8 3 8 1 8 -1 12 -1 8 -10 20 -13 18 -14 15 -46 42 -38 30 -14 10 -47 29 -27 19 -24 15 -18 9 -24 9 -48 13 -30 5 -36 8 -42 11 -50 7 -36 2 -46 0 -42-4 -36-7 -30-9 -12-6 -36-22 -20-15 -31-31 -10-14 -6-16 -3-14 0-20 5-14 3-6 5-6 5-5 8-4 6-2 8-2 21-3 25-1 18 2 8 0 16-2 14-5 22-12 14-12 30-34 17-16 13-8 16-7 12-3 18 0 60 10 12 2 14-1 14-2 14-3 24-10 26-13 18-6 10-2 16 0 6 2 6 4 6 5 4 5 8 15 8 29 4 7 4 4 6 4 9 4 13 2 10 0 12-1 7-3 11-6 12-11 6-7 6-10 18-36 10-12 6-4 12-5z"/>
<path fill="#f9ff06" fill-rule="evenodd" d="M1327 2002l13 0 12 1 10 2 10 3 9 4 11 7 6 5 7 8 4 6 5 10 2 8 0 10 0 8 -2 6 -9 20 -13 17 -14 15 -46 42 -36 29 -18 12 -47 29 -25 18 -24 15 -18 8 -24 10 -48 12 -32 6 -32 7 -46 12 -50 6 -36 2 -42 0 -42-4 -38-8 -28-9 -14-7 -34-22 -20-15 -29-29 -10-14 -5-14 -4-16 0-16 4-11 4-9 4-6 4-4 8-4 6-2 28-5 24 0 16 1 11 0 15-3 16-5 12-6 12-8 16-15 26-31 16-15 12-8 16-7 12-2 18 0 60 10 12 1 16 0 14-2 14-4 21-9 27-14 18-6 10-2 16 0 6 2 6 4 6 5 4 5 7 14 9 30 4 6 3 4 6 4 9 4 14 3 10 0 12-2 8-3 10-6 12-11 10-13 21-40 10-12 5-3 12-5z"/>
<path fill="#ecff13" fill-rule="evenodd" d="M1304 2006l24-4 12 0 24 4 10 3 8 4 12 8 7 7 6 8 4 8 3 8 1 8 0 12 -1 8 -10 20 -12 16 -15 16 -45 41 -38 30 -16 11 -46 28 -28 20 -24 15 -16 7 -24 10 -50 12 -48 9 -64 16 -46 5 -36 3 -44-1 -32-3 -46-10 -26-9 -14-7 -35-23 -18-14 -28-30 -8-12 -3-8 -6-20 0-14 6-18 4-6 4-4 6-3 10-3 24-5 20-1 18 1 12-1 14-2 16-6 12-6 12-8 16-15 26-31 16-15 12-8 16-8 12-2 18 0 60 11 12 1 16 0 14-3 14-4 22-9 26-13 18-7 10-2 16 0 6 2 8 5 4 4 4 6 6 12 10 30 2 4 5 6 5 4 8 4 16 3 10 0 12-2 5-1 11-6 6-5 10-10 6-8 6-10 15-29 5-8 5-6 7-5 10-4z"/>
<path fill="#dfff20" fill-rule="evenodd" d="M1302 2007l26-4 12 0 12 1 12 2 11 4 7 4 12 8 6 6 6 8 5 8 2 8 2 8 -1 12 -1 8 -10 20 -12 16 -15 16 -44 40 -38 30 -16 11 -48 29 -26 19 -24 15 -16 7 -24 9 -50 13 -48 9 -62 15 -48 6 -36 2 -34 0 -10 0 -32-4 -46-11 -26-9 -12-7 -34-23 -18-15 -26-29 -6-10 -3-7 -6-20 0-12 5-16 2-4 4-4 4-3 10-3 23-6 19-2 18 0 12-1 16-4 16-6 12-7 12-8 16-16 26-30 14-14 14-9 16-7 10-2 16 0 62 11 12 2 16-1 14-2 14-4 22-9 26-14 18-7 10-2 14 0 6 1 6 4 6 4 4 5 8 15 10 30 6 9 6 4 8 4 16 4 10 0 12-2 10-4 10-7 10-9 10-13 20-39 10-12 6-4z"/>
<path fill="#d2ff2d" fill-rule="evenodd" d="M1321 2004l19-1 18 2 8 2 10 4 6 3 12 9 7 7 5 6 5 10 2 8 1 6 0 10 -1 8 -10 20 -13 18 -14 15 -44 40 -38 30 -16 11 -53 32 -21 15 -24 15 -17 8 -23 9 -50 13 -48 8 -62 15 -48 6 -36 3 -32-1 -12 0 -30-4 -23-5 -23-6 -26-10 -11-6 -33-24 -18-16 -24-28 -5-8 -4-8 -4-18 -1-10 4-14 4-7 4-2 8-3 22-7 18-3 16 0 14-2 16-5 16-6 12-7 12-8 16-16 27-32 15-14 13-8 15-6 10-2 16 0 62 11 12 1 18 0 14-3 14-4 22-10 24-13 18-7 10-2 14 0 6 1 6 4 6 5 4 4 8 15 6 20 4 10 4 6 4 4 6 4 10 4 12 2 10 0 12-2 6-2 12-7 8-7 6-6 6-8 6-10 17-32 4-6 7-7 6-4 12-5z"/>
<path fill="#c6ff39" fill-rule="evenodd" d="M1325 2004l17 0 16 2 10 3 10 4 8 5 8 6 8 8 4 6 5 10 2 8 1 8 -1 8 -2 8 -9 19 -12 16 -14 15 -44 40 -38 30 -18 12 -49 30 -25 17 -22 14 -18 8 -22 9 -50 12 -48 9 -64 15 -48 6 -34 2 -40-1 -24-2 -20-4 -34-10 -26-10 -10-5 -34-26 -15-14 -24-30 -8-14 -3-14 -1-10 3-12 2-4 2-2 9-4 21-8 14-3 18-2 16-3 14-5 18-7 10-6 12-9 16-16 28-32 14-13 12-8 16-7 10-2 16 0 60 12 14 1 18-1 14-2 14-4 22-10 24-13 19-8 10-2 13 0 6 2 8 4 4 4 4 5 7 13 11 30 4 6 4 4 6 4 10 4 12 2 12 0 12-2 9-4 9-6 10-10 6-7 6-9 19-36 5-6 6-6 6-4 12-5z"/>
<path fill="#b9ff46" fill-rule="evenodd" d="M1332 2004l8 0 18 2 16 6 8 4 11 8 11 12 5 8 2 6 2 8 0 12 -2 10 -10 20 -13 16 -13 14 -43 39 -40 31 -16 11 -51 31 -23 16 -22 14 -18 8 -22 9 -50 12 -44 8 -68 16 -48 6 -34 2 -38-1 -26-3 -20-4 -32-10 -26-11 -11-6 -33-26 -12-12 -7-8 -16-22 -7-14 -3-12 -1-10 2-8 3-4 8-4 19-8 14-4 18-3 16-5 24-10 10-5 19-13 15-15 28-33 14-13 14-9 14-6 12-2 14 1 60 11 14 2 18-1 14-2 14-5 22-10 26-14 18-7 10-2 12 0 6 2 8 4 8 9 7 12 9 28 4 6 6 7 5 3 9 4 14 3 12-1 12-2 6-2 10-6 8-7 12-14 6-11 16-30 4-5 8-9 6-3 12-6z"/>
</g><g filter="url(#blurC2)">
<path fill="#a6ff59" fill-rule="evenodd" d="M1304 2008l26-3 10 0 23 3 9 3 8 4 12 9 6 6 7 8 4 8 2 8 1 8 0 8 -1 8 -10 20 -13 17 -14 15 -42 38 -40 31 -16 11 -52 32 -22 15 -22 14 -18 8 -22 8 -50 13 -44 8 -68 15 -48 6 -36 2 -34-1 -26-3 -22-5 -32-10 -26-12 -8-5 -26-21 -17-16 -6-8 -11-16 -8-12 -4-9 -3-17 1-5 2-3 24-12 10-4 18-5 14-4 12-5 20-10 12-7 12-9 12-11 34-39 10-10 14-9 16-7 10-2 15 0 61 12 14 1 18 0 15-3 15-5 20-9 26-14 18-8 10-2 12 0 6 2 7 4 5 4 4 5 7 13 9 26 4 6 6 7 8 5 12 4 8 1 12 0 10-2 8-3 10-6 8-7 8-9 6-8 22-40 10-11 6-4z"/>
<path fill="#8cff73" fill-rule="evenodd" d="M1324 2006l16 0 18 2 8 2 9 4 7 4 10 7 6 7 6 7 4 9 2 8 1 8 0 8 -2 6 -9 20 -13 16 -13 14 -44 40 -39 30 -17 12 -52 31 -22 15 -20 12 -18 9 -22 8 -50 12 -36 7 -76 16 -48 6 -34 2 -32-1 -22-2 -20-4 -22-7 -22-9 -21-11 -6-4 -27-24 -12-14 -12-18 -11-20 -2-6 -1-4 1-4 9-7 12-7 44-23 26-15 18-12 14-14 15-18 23-25 8-7 8-5 8-4 10-4 10-2 14 0 12 2 50 11 14 1 18-1 16-3 14-4 22-11 24-13 18-8 10-2 12 0 6 1 6 4 4 3 5 5 5 8 4 8 8 24 5 6 5 5 7 5 11 4 10 2 12-1 10-1 6-2 11-6 9-8 8-9 6-8 22-40 10-11 6-4 12-5z"/>
<path fill="#73ff8c" fill-rule="evenodd" d="M1315 2008l13-1 10 0 22 3 10 3 8 4 8 5 9 8 7 8 4 8 2 6 2 10 0 8 -2 8 -9 18 -13 17 -21 21 -35 32 -40 31 -42 27 -28 16 -20 14 -18 11 -20 9 -20 8 -54 13 -34 6 -50 11 -26 5 -50 6 -32 2 -32-1 -20-2 -20-5 -21-7 -25-12 -22-13 -16-15 -16-18 -11-18 -8-20 -1-4 0-2 4-4 57-44 15-10 19-14 13-14 26-30 12-12 14-10 10-5 6-3 10-2 14 0 14 2 34 8 16 3 14 1 18 0 16-3 16-6 20-10 24-13 18-8 10-3 10 0 6 1 6 3 6 4 4 5 9 14 9 24 4 6 6 6 10 6 12 3 8 1 12 0 10-2 9-4 7-4 8-8 8-9 6-8 22-39 10-11 6-4 10-4z"/>
<path fill="#59ffa6" fill-rule="evenodd" d="M1323 2008l13-1 12 2 10 1 8 3 14 6 11 9 5 5 6 7 4 8 2 8 1 8 -1 6 -1 8 -9 18 -14 18 -12 12 -21 20 -21 18 -40 31 -44 28 -35 21 -25 16 -14 8 -16 6 -20 7 -46 11 -36 6 -50 12 -26 4 -50 6 -14 1 -22 2 -28-2 -28-5 -24-7 -22-11 -20-12 -14-11 -15-17 -10-14 -8-18 -3-8 2-4 15-20 13-14 19-18 32-24 13-15 16-19 18-19 12-10 18-9 12-3 14 0 14 2 34 8 16 3 16 2 18-1 16-4 14-4 20-10 24-14 20-9 8-2 10-1 6 1 6 3 6 4 3 3 6 8 4 8 10 24 4 6 7 6 7 4 13 4 8 1 12-1 10-2 10-4 6-4 8-7 8-9 6-8 22-40 10-10 8-5 10-4z"/>
<path fill="#40ffbf" fill-rule="evenodd" d="M1313 2010l23-2 22 3 10 4 10 4 14 11 8 10 4 6 2 6 2 10 0 6 -2 8 -8 18 -14 18 -34 33 -18 16 -42 33 -20 13 -26 16 -34 19 -24 16 -14 7 -14 6 -22 8 -46 11 -36 6 -50 11 -26 4 -40 5 -24 3 -22 1 -26-2 -24-4 -18-5 -16-7 -24-14 -16-12 -12-12 -10-14 -9-18 -2-6 0-4 4-10 13-24 16-20 6-6 28-22 30-36 16-17 14-10 16-8 12-3 12-1 16 3 32 8 18 4 14 1 18-1 18-3 14-5 12-6 34-19 16-8 8-3 12-1 12 4 4 2 4 3 6 8 5 8 9 24 5 6 7 7 6 3 14 5 20 0 12-3 12-6 4-3 12-12 6-8 8-13 16-28 4-6 8-6 8-5 10-4z"/>
<path fill="#26ffd9" fill-rule="evenodd" d="M1310 2011l28-2 12 2 10 2 10 3 8 4 14 12 7 8 4 6 2 6 2 12 -2 12 -8 18 -15 18 -34 33 -16 14 -44 35 -34 21 -44 25 -26 17 -22 10 -22 8 -28 7 -40 9 -20 3 -50 11 -66 9 -36 3 -10 0 -24-2 -22-4 -12-4 -20-8 -24-16 -14-11 -12-13 -6-9 -3-6 -6-16 1-4 1-8 10-26 6-10 7-10 5-6 27-23 29-35 17-18 12-9 16-8 12-3 12 0 16 3 32 9 18 3 14 2 18-1 18-4 14-5 14-6 32-19 18-9 8-3 10-1 14 4 5 3 10 14 11 27 6 7 6 5 10 5 10 3 20 0 10-2 11-5 6-4 7-6 12-14 9-14 16-30 7-7 6-4 12-6z"/>
<path fill="#0dfff2" fill-rule="evenodd" d="M1304 2013l22-3 10 0 20 3 12 4 8 3 14 11 8 9 4 6 2 6 2 10 0 6 -2 8 -9 18 -13 17 -34 33 -18 16 -40 31 -38 24 -45 25 -23 15 -22 10 -22 8 -30 8 -40 8 -18 2 -50 11 -66 9 -44 3 -24-2 -24-4 -12-5 -18-8 -22-16 -12-11 -11-12 -7-12 -4-16 1-14 4-16 3-10 10-18 4-5 26-23 24-30 20-21 12-9 16-8 12-3 10 0 16 2 14 4 20 6 18 4 10 1 10 0 18-2 14-3 14-5 12-6 34-21 16-8 8-3 10-1 12 2 4 2 2 1 6 8 5 8 11 25 6 7 6 5 9 5 11 3 20 1 12-3 10-5 6-4 18-20 9-14 15-28 4-4 8-7 6-3z"/>
<path fill="#00f2ff" fill-rule="evenodd" d="M1314 2012l22-1 20 3 12 3 8 4 14 11 7 8 4 6 2 6 2 12 -2 12 -9 18 -12 16 -34 33 -18 16 -42 32 -46 29 -33 18 -27 17 -14 6 -28 10 -30 8 -40 8 -20 3 -48 10 -66 9 -44 3 -24-2 -22-5 -12-4 -16-8 -16-11 -15-14 -12-14 -5-10 -3-8 -1-10 0-8 1-10 4-20 9-18 28-27 23-29 19-20 14-11 14-6 12-3 10 0 16 2 12 3 22 7 18 3 10 1 12 0 18-2 14-3 14-5 12-6 32-20 18-10 10-3 8-1 10 2 4 1 2 2 11 15 5 13 6 13 5 6 7 6 8 4 12 4 22 0 8-2 13-6 5-3 7-7 12-14 24-42 5-6 8-6 8-4 8-3z"/>
<path fill="#00d9ff" fill-rule="evenodd" d="M1322 2012l14 0 12 1 10 2 10 3 11 6 10 8 7 8 3 4 3 6 2 16 -2 10 -8 18 -13 16 -33 32 -18 16 -32 25 -12 8 -44 28 -36 19 -12 8 -12 7 -16 7 -26 10 -28 7 -42 8 -19 3 -49 11 -68 8 -40 3 -26-3 -22-4 -10-4 -16-8 -16-11 -14-14 -12-14 -5-10 -3-16 0-10 3-24 4-10 5-10 27-28 23-29 18-19 14-10 14-7 12-3 8 0 16 2 14 3 20 7 18 3 12 1 12 0 18-2 14-3 16-5 22-12 21-14 19-11 10-3 8-1 10 2 4 3 11 14 11 26 5 6 7 6 8 4 12 4 22 1 8-2 14-7 4-3 7-7 12-14 24-42 5-5 8-6 10-5 8-2z"/>
<path fill="#00bfff" fill-rule="evenodd" d="M1309 2014l25-2 12 1 8 2 14 4 8 4 12 9 8 9 4 5 2 6 1 10 0 6 -1 6 -8 18 -6 8 -8 10 -32 31 -18 16 -28 22 -18 13 -42 26 -27 14 -23 15 -16 8 -22 9 -24 7 -36 8 -44 8 -48 10 -68 8 -40 3 -24-2 -24-5 -8-3 -15-8 -15-10 -13-12 -12-14 -6-12 -4-16 0-10 4-24 7-18 12-14 15-16 19-24 10-11 16-15 8-6 8-4 14-5 6-1 6 0 18 3 32 9 18 2 24 2 20-2 14-3 16-6 24-12 37-25 9-3 10-1 6 1 3 1 8 8 6 10 5 12 5 12 12 12 9 5 12 4 22 0 10-3 12-6 4-3 19-21 25-42 2-3 8-6 10-6z"/>
<path fill="#00a6ff" fill-rule="evenodd" d="M1313 2014l23-1 10 1 10 2 12 4 8 3 12 10 11 13 2 6 2 12 -2 10 -8 18 -5 8 -8 9 -32 31 -18 16 -32 25 -14 10 -42 26 -28 14 -22 14 -14 8 -24 9 -24 7 -20 5 -60 11 -48 10 -68 8 -38 3 -26-3 -22-4 -8-2 -10-5 -12-8 -13-10 -17-19 -5-7 -3-6 -3-12 -1-12 4-26 8-18 9-12 16-18 21-26 7-8 15-13 8-6 8-4 16-5 10-2 14 2 16 4 12 4 14 2 30 3 26-1 12-3 14-4 16-7 15-8 31-22 8-5 8-2 10 0 4 1 2 1 8 9 5 8 4 12 6 12 11 12 8 4 14 5 22 1 10-3 12-6 4-3 6-6 14-16 24-42 4-4 8-6 8-4 8-3z"/>
<path fill="#008cff" fill-rule="evenodd" d="M1308 2015l26-1 12 0 10 3 12 3 10 5 10 9 6 7 4 5 2 4 2 16 -2 10 -9 18 -11 14 -34 33 -17 15 -31 24 -14 10 -42 26 -28 14 -22 14 -16 9 -22 8 -24 7 -20 4 -60 11 -48 10 -50 7 -28 3 -28 1 -26-3 -20-3 -8-3 -6-2 -16-10 -12-9 -18-20 -7-12 -3-12 -1-12 4-24 7-18 9-14 37-44 20-18 10-7 6-3 14-5 10-2 14 1 18 4 12 4 16 2 38 2 16-1 12-2 20-5 24-12 15-10 14-12 11-8 8-2 10 0 4 0 2 2 7 8 5 8 10 24 12 12 8 5 14 5 22 0 10-3 12-6 4-3 6-6 14-16 24-41 4-5 8-5 10-6z"/>
<path fill="#0073ff" fill-rule="evenodd" d="M1308 2016l20-2 20 1 10 3 16 6 11 8 12 14 3 6 1 10 1 4 -1 6 -9 19 -4 7 -8 9 -34 33 -18 16 -28 22 -16 11 -44 27 -26 13 -22 15 -14 7 -18 7 -32 9 -126 25 -50 6 -54 4 -28-3 -22-4 -9-3 -19-12 -10-7 -18-21 -5-10 -3-10 -1-14 3-24 7-18 8-12 5-8 32-37 20-18 8-6 6-3 18-6 8-1 8 1 16 3 18 5 14 2 42 2 14-1 12-2 20-4 26-13 16-11 14-13 10-8 6-2 10 0 5 2 7 8 6 8 10 24 5 6 7 7 8 4 14 5 22 0 12-3 10-6 5-3 20-22 25-43 6-5 10-6 4-2z"/>
<path fill="#0059ff" fill-rule="evenodd" d="M1312 2016l24-1 10 1 8 1 20 7 12 10 8 8 4 6 3 16 -1 8 -10 21 -4 6 -8 9 -32 31 -16 15 -32 24 -14 10 -44 27 -26 13 -10 6 -12 8 -14 7 -16 7 -34 9 -126 25 -50 7 -52 3 -30-3 -20-3 -8-3 -20-12 -9-7 -17-20 -5-8 -3-8 -1-6 -1-14 5-26 4-10 7-14 8-12 29-34 19-16 14-9 20-7 6 0 8 0 16 3 18 5 14 1 42 2 14 0 26-4 8-3 26-12 16-11 14-15 10-8 4-1 10 0 5 1 7 8 6 9 10 23 5 6 7 7 8 4 14 6 22 0 8-2 16-8 9-9 14-16 23-39 3-5 9-6 8-5 4-1z"/>
<path fill="#0040ff" fill-rule="evenodd" d="M1318 2016l26 0 22 6 10 4 9 8 7 7 4 5 2 4 2 16 -2 9 -9 19 -11 13 -32 31 -17 16 -32 24 -57 36 -26 13 -10 6 -13 9 -13 6 -16 7 -34 9 -126 24 -50 7 -50 3 -24-2 -22-3 -10-2 -4-2 -20-13 -8-6 -16-20 -4-6 -4-14 0-14 4-26 4-10 6-14 8-12 14-17 14-15 20-17 12-7 20-7 6-1 8 1 20 3 14 4 70 3 28-4 8-3 26-12 16-12 12-14 10-9 4-1 10-1 4 1 8 9 6 9 9 22 5 6 8 8 6 3 16 6 22 0 8-2 14-7 6-4 6-6 13-16 23-39 4-5 9-6 9-5 6-1z"/>
<path fill="#0026ff" fill-rule="evenodd" d="M1307 2018l21-2 18 1 11 3 17 6 10 8 8 8 4 6 2 6 1 10 -1 9 -8 17 -4 7 -8 9 -32 31 -18 17 -21 16 -17 12 -35 22 -17 10 -26 13 -20 13 -7 4 -23 9 -32 9 -86 16 -28 6 -64 10 -50 2 -24-2 -22-3 -12-3 -9-6 -19-13 -16-21 -3-4 -4-14 0-12 4-26 4-12 7-16 5-8 13-17 16-17 18-14 13-8 21-7 6-1 6 1 22 4 12 4 24 0 46 2 30-4 6-2 26-12 18-13 11-14 9-10 6-2 8 0 4 1 8 9 4 6 11 24 5 7 8 7 10 5 12 4 22 1 6-2 8-3 8-4 6-4 19-21 26-44 5-4 9-6 5-2z"/>
<path fill="#000dff" fill-rule="evenodd" d="M1313 2018l21-1 12 1 26 8 4 2 8 7 8 9 3 4 2 6 1 10 -1 8 -9 20 -4 6 -6 6 -32 32 -20 18 -20 16 -20 14 -46 28 -26 13 -24 15 -6 3 -22 9 -36 9 -82 15 -27 6 -65 10 -50 2 -36-4 -20-4 -10-6 -18-13 -17-23 -5-14 0-12 4-26 10-28 5-8 13-16 14-15 20-15 12-8 20-6 6-1 6 0 22 4 12 4 28 0 42 2 34-4 24-10 8-5 16-12 10-14 8-10 4-2 10-1 4 1 8 9 4 6 7 17 4 8 13 13 8 4 12 4 8 2 16-1 6-1 8-3 10-6 5-4 18-20 25-42 4-4 16-10z"/>
<path fill="#0000f2" fill-rule="evenodd" d="M1305 2020l21-2 20 1 24 7 4 2 7 6 13 14 2 6 1 8 0 6 -1 4 -8 18 -6 9 -20 20 -32 31 -15 12 -31 22 -46 28 -26 13 -20 13 -8 4 -24 9 -34 9 -126 23 -48 7 -50 2 -36-4 -20-5 -10-5 -16-12 -8-10 -9-14 -4-14 0-10 4-26 6-20 4-10 17-22 14-14 20-15 12-7 18-6 8-1 24 4 14 5 34 1 34 4 28-2 10-2 26-12 6-4 16-15 9-14 9-12 4-2 8-1 4 2 7 7 5 8 7 16 4 8 5 6 8 7 12 6 10 4 8 0 14 0 12-4 12-6 4-3 15-16 6-8 25-41 12-9 6-3z"/>
<path fill="#0000d9" fill-rule="evenodd" d="M1313 2020l23-1 10 1 25 8 11 8 9 10 3 4 2 14 -1 8 -9 19 -7 9 -17 18 -28 27 -18 15 -31 22 -45 27 -26 13 -30 19 -24 9 -30 7 -130 25 -48 7 -50 1 -34-4 -14-2 -8-3 -10-6 -15-11 -8-10 -8-14 -4-14 0-10 6-28 4-16 4-10 15-20 14-14 20-15 14-7 8-3 14-4 4 0 12 2 10 2 24 8 16 8 14 9 14 6 12 3 10 1 14-1 10-1 6-2 8-6 10-10 14-15 12-16 8-12 7-13 7-10 6-3 6-1 4 2 6 6 6 10 9 20 6 8 9 8 10 5 12 4 16 1 8-1 8-2 12-6 6-4 3-3 17-20 20-33 8-11 8-6 8-4z"/>
<path fill="#0000bf" fill-rule="evenodd" d="M1305 2022l17-1 16 0 8 1 12 3 12 4 11 7 9 10 2 3 2 5 1 8 -1 8 -9 20 -9 12 -32 32 -16 15 -25 19 -17 12 -18 11 -30 18 -24 12 -30 18 -24 9 -32 8 -130 24 -46 7 -16 1 -34 1 -34-4 -12-3 -10-3 -12-7 -12-9 -7-9 -9-14 -3-14 0-10 4-24 5-20 4-8 8-12 8-10 14-14 18-13 14-8 12-4 12-2 18 2 12 4 18 7 9 6 17 14 8 5 8 3 12 3 12 2 14-1 12-1 6-2 4-3 14-14 16-22 10-16 13-24 6-8 5-5 4-2 4 0 4 2 6 6 4 7 11 24 5 6 8 7 10 6 12 4 10 2 14 0 6-2 8-3 12-7 4-3 19-22 26-42 5-4 6-4 6-3z"/>
<path fill="#0000a6" fill-rule="evenodd" d="M1316 2022l22 0 12 2 20 6 11 8 10 12 2 6 1 8 -1 4 -2 8 -7 14 -8 10 -14 15 -28 27 -19 16 -13 10 -18 12 -17 10 -30 18 -23 12 -32 19 -22 8 -30 8 -134 25 -46 6 -14 1 -34 0 -8 0 -26-3 -16-4 -8-3 -10-6 -12-10 -6-7 -9-16 -3-12 0-10 5-26 5-18 3-8 15-20 14-14 19-14 15-8 10-4 12-2 12 1 8 2 15 5 11 5 7 5 17 17 8 6 10 4 14 4 12 2 14 0 12-2 8-3 4-2 6-6 10-12 14-22 24-44 6-8 4-3 4-1 4 1 6 5 6 10 7 16 3 6 7 8 9 8 10 5 12 4 10 1 12-1 8-2 6-2 10-6 7-5 21-24 18-31 8-11 10-6 4-2z"/>
<path fill="#00008c" fill-rule="evenodd" d="M1310 2024l24-1 12 1 19 6 7 3 7 5 10 12 3 6 1 6 -1 6 -2 6 -8 16 -8 10 -12 13 -30 29 -33 26 -14 10 -47 28 -22 11 -24 15 -12 6 -21 8 -32 8 -130 24 -47 7 -14 1 -34 0 -8 0 -28-4 -15-4 -9-4 -12-8 -10-10 -4-5 -8-14 -3-13 1-11 4-21 5-18 5-12 14-18 14-14 19-14 16-8 9-3 12-2 14 3 8 2 12 4 10 5 6 5 8 10 7 8 9 6 10 5 14 4 14 3 16 0 10-2 6-2 6-2 7-6 5-6 10-15 32-61 6-8 4-3 2-1 4 0 2 0 4 4 6 9 9 19 3 6 6 7 10 8 12 6 12 3 10 1 10 0 6-2 10-4 15-9 22-26 17-29 8-11 13-8z"/>
<path fill="#000080" fill-rule="evenodd" d="M1308 2026l22-1 15 1 15 4 5 2 5 2 8 5 10 12 2 6 1 5 -1 6 -2 6 -8 16 -18 21 -30 29 -33 26 -17 12 -26 15 -18 11 -22 11 -28 17 -12 6 -17 6 -31 8 -142 26 -26 4 -24 2 -34 0 -8 0 -28-4 -16-4 -8-4 -12-8 -10-10 -10-17 -3-13 1-12 4-21 4-16 4-9 14-20 14-14 19-14 16-8 13-4 8-1 10 2 13 3 11 4 8 4 6 6 7 10 9 10 8 6 10 5 14 4 14 3 18 0 10-1 6-2 8-3 6-6 6-6 11-18 31-62 6-7 4-3 5 0 4 4 5 7 9 19 5 8 6 7 10 8 12 6 14 4 10 0 10-1 4-1 10-4 10-6 7-5 21-24 12-18 6-12 7-10 5-4 7-4z"/>
</g></g></g>
<g clip-path="url(#plotclip)" transform="translate(0,1790.3)"><use href="#salt"/></g>
<path d="M128.5,1893.1 V2644.7 H2546.2" fill="none" stroke="#262626" stroke-width="5.3" stroke-linecap="butt" stroke-linejoin="miter"/>
<path d="M128.5,1897.7H155.0M128.5,2147.7H155.0M128.5,2397.7H155.0M129.8,2644.7V2618.2M613.6,2644.7V2618.2M1097.4,2644.7V2618.2M1581.2,2644.7V2618.2M2065.0,2644.7V2618.2" stroke="#262626" stroke-width="5.3" fill="none"/>
<text x="104.5" y="1921.0" font-size="65" fill="#262626" text-anchor="end">0</text>
<text x="104.5" y="2171.0" font-size="65" fill="#262626" text-anchor="end">1</text>
<text x="104.5" y="2421.0" font-size="65" fill="#262626" text-anchor="end">2</text>
<text x="129.8" y="2727.1" font-size="65" fill="#262626" text-anchor="middle">0</text>
<text x="613.6" y="2727.1" font-size="65" fill="#262626" text-anchor="middle">2</text>
<text x="1097.4" y="2727.1" font-size="65" fill="#262626" text-anchor="middle">4</text>
<text x="1581.2" y="2727.1" font-size="65" fill="#262626" text-anchor="middle">6</text>
<text x="2065.0" y="2727.1" font-size="65" fill="#262626" text-anchor="middle">8</text>
<text transform="translate(46.3,2271.1) rotate(-90)" font-size="64.5" fill="#262626" text-anchor="middle">Depth (km)</text>
<text x="152.5" y="1983.8" font-size="100" letter-spacing="1.3" fill="#fff">(c)</text>
<rect x="1861.4" y="1933.0" width="646.2" height="73.4" fill="#b3b3b3" stroke="#000" stroke-width="4.8"/>
<path d="M1875,1969.8H2014" stroke="#fff" stroke-width="9"/>
<text x="2023.5" y="1989.1" font-size="55.4" fill="#000">True Salt Boundary</text>
<rect x="2580.5" y="1894.8" width="56.2" height="749" fill="url(#jetbar)" stroke="#3a3a3a" stroke-width="1.6"/>
<path d="M2636.7,2065.4h-7M2636.7,2236.0h-7M2636.7,2406.6h-7M2636.7,2577.2h-7" stroke="#262626" stroke-width="2" fill="none"/>
<text x="2657" y="1918.3" font-size="65" fill="#262626">0</text>
<text x="2657" y="2088.9" font-size="65" fill="#262626">-0.1</text>
<text x="2657" y="2259.5" font-size="65" fill="#262626">-0.2</text>
<text x="2657" y="2430.1" font-size="65" fill="#262626">-0.3</text>
<text x="2657" y="2600.7" font-size="65" fill="#262626">-0.4</text>
<text x="2531" y="1859.1" font-size="65" fill="#000">g/cm<tspan font-size="52" dy="-31" dx="-4">3</tspan></text>
<text x="1336.4" y="2802.7" font-size="64.5" fill="#262626" text-anchor="middle">Distance (km)</text>
</svg></body></html>
